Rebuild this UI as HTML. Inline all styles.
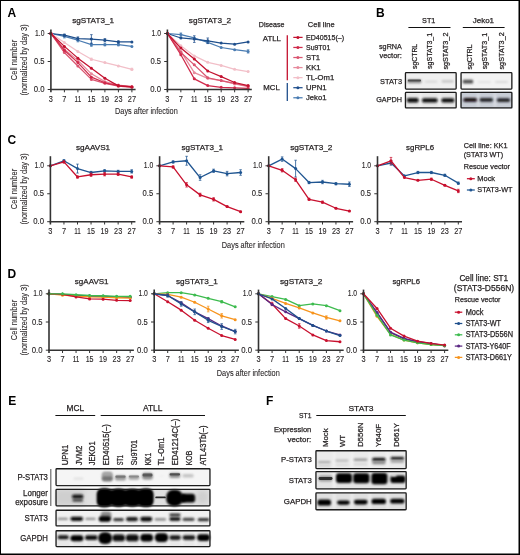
<!DOCTYPE html>
<html><head><meta charset="utf-8"><style>
html,body{margin:0;padding:0;background:#fff;}
body{width:520px;height:555px;overflow:hidden;}
svg{display:block;filter:blur(0.5px);}
text{font-family:"Liberation Sans", sans-serif;}
</style></head><body>
<svg width="520" height="555" viewBox="0 0 520 555">
<defs>
<filter id="b3" x="-50%" y="-100%" width="200%" height="300%"><feGaussianBlur stdDeviation="0.3"/></filter>
<filter id="b4" x="-50%" y="-100%" width="200%" height="300%"><feGaussianBlur stdDeviation="0.4"/></filter>
<filter id="b5" x="-50%" y="-100%" width="200%" height="300%"><feGaussianBlur stdDeviation="0.5"/></filter>
<filter id="b6" x="-50%" y="-100%" width="200%" height="300%"><feGaussianBlur stdDeviation="0.6"/></filter>
<filter id="b7" x="-50%" y="-100%" width="200%" height="300%"><feGaussianBlur stdDeviation="0.7"/></filter>
<filter id="b8" x="-50%" y="-100%" width="200%" height="300%"><feGaussianBlur stdDeviation="0.8"/></filter>
<filter id="b9" x="-50%" y="-100%" width="200%" height="300%"><feGaussianBlur stdDeviation="0.9"/></filter>
<filter id="b10" x="-50%" y="-100%" width="200%" height="300%"><feGaussianBlur stdDeviation="1.0"/></filter>
<filter id="b12" x="-50%" y="-100%" width="200%" height="300%"><feGaussianBlur stdDeviation="1.2"/></filter>
<filter id="b14" x="-50%" y="-100%" width="200%" height="300%"><feGaussianBlur stdDeviation="1.4"/></filter>
<filter id="b16" x="-50%" y="-100%" width="200%" height="300%"><feGaussianBlur stdDeviation="1.6"/></filter>
<filter id="b20" x="-50%" y="-100%" width="200%" height="300%"><feGaussianBlur stdDeviation="2.0"/></filter>
<filter id="b25" x="-50%" y="-100%" width="200%" height="300%"><feGaussianBlur stdDeviation="2.5"/></filter>
</defs>
<rect x="0.00" y="0.00" width="520.00" height="555.00" fill="#ffffff"/>
<text x="7.4" y="16.6" font-size="12" text-anchor="start" font-weight="bold" fill="#000">A</text>
<text x="93.1" y="22.9" font-size="8.1" text-anchor="middle" textLength="41.8" lengthAdjust="spacingAndGlyphs" fill="#231f20" stroke="#231f20" stroke-width="0.25">sgSTAT3_1</text>
<text x="210" y="22.9" font-size="8.1" text-anchor="middle" textLength="42.3" lengthAdjust="spacingAndGlyphs" fill="#231f20" stroke="#231f20" stroke-width="0.25">sgSTAT3_2</text>
<text transform="translate(16.7,60.0) rotate(-90)" font-size="9.8" text-anchor="middle" textLength="40.3" lengthAdjust="spacingAndGlyphs" fill="#231f20" stroke="#231f20" stroke-width="0.08">Cell number</text>
<text transform="translate(27.0,60.0) rotate(-90)" font-size="9.8" text-anchor="middle" textLength="71.2" lengthAdjust="spacingAndGlyphs" fill="#231f20" stroke="#231f20" stroke-width="0.08">(normalized by day 3)</text>
<polyline points="50.90,33.50 64.40,36.30 77.90,40.22 91.40,44.70 104.90,44.70 118.40,44.70 131.90,46.38" fill="none" stroke="#4a7cb2" stroke-width="1.25" stroke-linejoin="round"/>
<circle cx="50.90" cy="33.50" r="1.5" fill="#4a7cb2"/>
<circle cx="64.40" cy="36.30" r="1.5" fill="#4a7cb2"/>
<line x1="64.40" y1="34.62" x2="64.40" y2="37.98" stroke="#4a7cb2" stroke-width="0.8"/>
<line x1="63.10" y1="34.62" x2="65.70" y2="34.62" stroke="#4a7cb2" stroke-width="0.7"/>
<line x1="63.10" y1="37.98" x2="65.70" y2="37.98" stroke="#4a7cb2" stroke-width="0.7"/>
<circle cx="77.90" cy="40.22" r="1.5" fill="#4a7cb2"/>
<line x1="77.90" y1="38.54" x2="77.90" y2="41.90" stroke="#4a7cb2" stroke-width="0.8"/>
<line x1="76.60" y1="38.54" x2="79.20" y2="38.54" stroke="#4a7cb2" stroke-width="0.7"/>
<line x1="76.60" y1="41.90" x2="79.20" y2="41.90" stroke="#4a7cb2" stroke-width="0.7"/>
<circle cx="91.40" cy="44.70" r="1.5" fill="#4a7cb2"/>
<line x1="91.40" y1="43.02" x2="91.40" y2="46.38" stroke="#4a7cb2" stroke-width="0.8"/>
<line x1="90.10" y1="43.02" x2="92.70" y2="43.02" stroke="#4a7cb2" stroke-width="0.7"/>
<line x1="90.10" y1="46.38" x2="92.70" y2="46.38" stroke="#4a7cb2" stroke-width="0.7"/>
<circle cx="104.90" cy="44.70" r="1.5" fill="#4a7cb2"/>
<line x1="104.90" y1="43.58" x2="104.90" y2="45.82" stroke="#4a7cb2" stroke-width="0.8"/>
<line x1="103.60" y1="43.58" x2="106.20" y2="43.58" stroke="#4a7cb2" stroke-width="0.7"/>
<line x1="103.60" y1="45.82" x2="106.20" y2="45.82" stroke="#4a7cb2" stroke-width="0.7"/>
<circle cx="118.40" cy="44.70" r="1.5" fill="#4a7cb2"/>
<line x1="118.40" y1="43.58" x2="118.40" y2="45.82" stroke="#4a7cb2" stroke-width="0.8"/>
<line x1="117.10" y1="43.58" x2="119.70" y2="43.58" stroke="#4a7cb2" stroke-width="0.7"/>
<line x1="117.10" y1="45.82" x2="119.70" y2="45.82" stroke="#4a7cb2" stroke-width="0.7"/>
<circle cx="131.90" cy="46.38" r="1.5" fill="#4a7cb2"/>
<polyline points="50.90,33.50 64.40,35.18 77.90,38.54 91.40,39.10 104.90,40.22 118.40,41.90 131.90,41.90" fill="none" stroke="#1f4f8c" stroke-width="1.25" stroke-linejoin="round"/>
<circle cx="50.90" cy="33.50" r="1.5" fill="#1f4f8c"/>
<circle cx="64.40" cy="35.18" r="1.5" fill="#1f4f8c"/>
<line x1="64.40" y1="34.06" x2="64.40" y2="36.30" stroke="#1f4f8c" stroke-width="0.8"/>
<line x1="63.10" y1="34.06" x2="65.70" y2="34.06" stroke="#1f4f8c" stroke-width="0.7"/>
<line x1="63.10" y1="36.30" x2="65.70" y2="36.30" stroke="#1f4f8c" stroke-width="0.7"/>
<circle cx="77.90" cy="38.54" r="1.5" fill="#1f4f8c"/>
<line x1="77.90" y1="36.86" x2="77.90" y2="40.22" stroke="#1f4f8c" stroke-width="0.8"/>
<line x1="76.60" y1="36.86" x2="79.20" y2="36.86" stroke="#1f4f8c" stroke-width="0.7"/>
<line x1="76.60" y1="40.22" x2="79.20" y2="40.22" stroke="#1f4f8c" stroke-width="0.7"/>
<circle cx="91.40" cy="39.10" r="1.5" fill="#1f4f8c"/>
<line x1="91.40" y1="34.62" x2="91.40" y2="43.58" stroke="#1f4f8c" stroke-width="0.8"/>
<line x1="90.10" y1="34.62" x2="92.70" y2="34.62" stroke="#1f4f8c" stroke-width="0.7"/>
<line x1="90.10" y1="43.58" x2="92.70" y2="43.58" stroke="#1f4f8c" stroke-width="0.7"/>
<circle cx="104.90" cy="40.22" r="1.5" fill="#1f4f8c"/>
<line x1="104.90" y1="38.54" x2="104.90" y2="41.90" stroke="#1f4f8c" stroke-width="0.8"/>
<line x1="103.60" y1="38.54" x2="106.20" y2="38.54" stroke="#1f4f8c" stroke-width="0.7"/>
<line x1="103.60" y1="41.90" x2="106.20" y2="41.90" stroke="#1f4f8c" stroke-width="0.7"/>
<circle cx="118.40" cy="41.90" r="1.5" fill="#1f4f8c"/>
<line x1="118.40" y1="40.78" x2="118.40" y2="43.02" stroke="#1f4f8c" stroke-width="0.8"/>
<line x1="117.10" y1="40.78" x2="119.70" y2="40.78" stroke="#1f4f8c" stroke-width="0.7"/>
<line x1="117.10" y1="43.02" x2="119.70" y2="43.02" stroke="#1f4f8c" stroke-width="0.7"/>
<circle cx="131.90" cy="41.90" r="1.5" fill="#1f4f8c"/>
<polyline points="50.90,33.50 64.40,42.46 77.90,51.42 91.40,59.26 104.90,62.62 118.40,65.98 131.90,69.34" fill="none" stroke="#f2bfc8" stroke-width="1.25" stroke-linejoin="round"/>
<circle cx="50.90" cy="33.50" r="1.5" fill="#f2bfc8"/>
<circle cx="64.40" cy="42.46" r="1.5" fill="#f2bfc8"/>
<circle cx="77.90" cy="51.42" r="1.5" fill="#f2bfc8"/>
<circle cx="91.40" cy="59.26" r="1.5" fill="#f2bfc8"/>
<line x1="91.40" y1="58.14" x2="91.40" y2="60.38" stroke="#f2bfc8" stroke-width="0.8"/>
<line x1="90.10" y1="58.14" x2="92.70" y2="58.14" stroke="#f2bfc8" stroke-width="0.7"/>
<line x1="90.10" y1="60.38" x2="92.70" y2="60.38" stroke="#f2bfc8" stroke-width="0.7"/>
<circle cx="104.90" cy="62.62" r="1.5" fill="#f2bfc8"/>
<circle cx="118.40" cy="65.98" r="1.5" fill="#f2bfc8"/>
<circle cx="131.90" cy="69.34" r="1.5" fill="#f2bfc8"/>
<line x1="131.90" y1="68.22" x2="131.90" y2="70.46" stroke="#f2bfc8" stroke-width="0.8"/>
<line x1="130.60" y1="68.22" x2="133.20" y2="68.22" stroke="#f2bfc8" stroke-width="0.7"/>
<line x1="130.60" y1="70.46" x2="133.20" y2="70.46" stroke="#f2bfc8" stroke-width="0.7"/>
<polyline points="50.90,33.50 64.40,49.18 77.90,60.38 91.40,73.82 104.90,81.66 118.40,85.02 131.90,86.70" fill="none" stroke="#e78a9c" stroke-width="1.25" stroke-linejoin="round"/>
<circle cx="50.90" cy="33.50" r="1.5" fill="#e78a9c"/>
<circle cx="64.40" cy="49.18" r="1.5" fill="#e78a9c"/>
<circle cx="77.90" cy="60.38" r="1.5" fill="#e78a9c"/>
<circle cx="91.40" cy="73.82" r="1.5" fill="#e78a9c"/>
<circle cx="104.90" cy="81.66" r="1.5" fill="#e78a9c"/>
<circle cx="118.40" cy="85.02" r="1.5" fill="#e78a9c"/>
<circle cx="131.90" cy="86.70" r="1.5" fill="#e78a9c"/>
<polyline points="50.90,33.50 64.40,52.54 77.90,65.98 91.40,79.42 104.90,83.34 118.40,86.14 131.90,87.26" fill="none" stroke="#da5570" stroke-width="1.25" stroke-linejoin="round"/>
<circle cx="50.90" cy="33.50" r="1.5" fill="#da5570"/>
<circle cx="64.40" cy="52.54" r="1.5" fill="#da5570"/>
<circle cx="77.90" cy="65.98" r="1.5" fill="#da5570"/>
<circle cx="91.40" cy="79.42" r="1.5" fill="#da5570"/>
<circle cx="104.90" cy="83.34" r="1.5" fill="#da5570"/>
<circle cx="118.40" cy="86.14" r="1.5" fill="#da5570"/>
<circle cx="131.90" cy="87.26" r="1.5" fill="#da5570"/>
<polyline points="50.90,33.50 64.40,50.30 77.90,62.62 91.40,77.18 104.90,82.78 118.40,85.58 131.90,86.70" fill="none" stroke="#d02a4b" stroke-width="1.25" stroke-linejoin="round"/>
<circle cx="50.90" cy="33.50" r="1.5" fill="#d02a4b"/>
<circle cx="64.40" cy="50.30" r="1.5" fill="#d02a4b"/>
<circle cx="77.90" cy="62.62" r="1.5" fill="#d02a4b"/>
<circle cx="91.40" cy="77.18" r="1.5" fill="#d02a4b"/>
<circle cx="104.90" cy="82.78" r="1.5" fill="#d02a4b"/>
<circle cx="118.40" cy="85.58" r="1.5" fill="#d02a4b"/>
<circle cx="131.90" cy="86.70" r="1.5" fill="#d02a4b"/>
<polyline points="50.90,33.50 64.40,46.38 77.90,58.14 91.40,68.22 104.90,78.30 118.40,85.86 131.90,86.98" fill="none" stroke="#c3112f" stroke-width="1.25" stroke-linejoin="round"/>
<circle cx="50.90" cy="33.50" r="1.5" fill="#c3112f"/>
<circle cx="64.40" cy="46.38" r="1.5" fill="#c3112f"/>
<circle cx="77.90" cy="58.14" r="1.5" fill="#c3112f"/>
<circle cx="91.40" cy="68.22" r="1.5" fill="#c3112f"/>
<circle cx="104.90" cy="78.30" r="1.5" fill="#c3112f"/>
<circle cx="118.40" cy="85.86" r="1.5" fill="#c3112f"/>
<circle cx="131.90" cy="86.98" r="1.5" fill="#c3112f"/>
<line x1="50.90" y1="29.50" x2="50.90" y2="92.30" stroke="#333333" stroke-width="1.6"/>
<line x1="50.10" y1="89.50" x2="135.60" y2="89.50" stroke="#333333" stroke-width="1.6"/>
<line x1="47.70" y1="61.50" x2="50.90" y2="61.50" stroke="#333333" stroke-width="1.0"/>
<line x1="47.70" y1="33.50" x2="50.90" y2="33.50" stroke="#333333" stroke-width="1.0"/>
<line x1="47.70" y1="89.50" x2="50.90" y2="89.50" stroke="#333333" stroke-width="1.0"/>
<line x1="64.40" y1="89.50" x2="64.40" y2="92.30" stroke="#333333" stroke-width="1.0"/>
<line x1="77.90" y1="89.50" x2="77.90" y2="92.30" stroke="#333333" stroke-width="1.0"/>
<line x1="91.40" y1="89.50" x2="91.40" y2="92.30" stroke="#333333" stroke-width="1.0"/>
<line x1="104.90" y1="89.50" x2="104.90" y2="92.30" stroke="#333333" stroke-width="1.0"/>
<line x1="118.40" y1="89.50" x2="118.40" y2="92.30" stroke="#333333" stroke-width="1.0"/>
<line x1="131.90" y1="89.50" x2="131.90" y2="92.30" stroke="#333333" stroke-width="1.0"/>
<text x="44.5" y="36.1" font-size="8.6" text-anchor="end" textLength="9.4" lengthAdjust="spacingAndGlyphs" fill="#231f20" stroke="#231f20" stroke-width="0.12">1.0</text>
<text x="44.5" y="64.1" font-size="8.6" text-anchor="end" textLength="10.6" lengthAdjust="spacingAndGlyphs" fill="#231f20" stroke="#231f20" stroke-width="0.12">0.5</text>
<text x="44.5" y="92.1" font-size="8.6" text-anchor="end" textLength="10.8" lengthAdjust="spacingAndGlyphs" fill="#231f20" stroke="#231f20" stroke-width="0.12">0.0</text>
<text x="50.9" y="101.5" font-size="8.6" text-anchor="middle" textLength="4.1" lengthAdjust="spacingAndGlyphs" fill="#231f20" stroke="#231f20" stroke-width="0.12">3</text>
<text x="64.4" y="101.5" font-size="8.6" text-anchor="middle" textLength="4.1" lengthAdjust="spacingAndGlyphs" fill="#231f20" stroke="#231f20" stroke-width="0.12">7</text>
<text x="77.9" y="101.5" font-size="8.6" text-anchor="middle" textLength="6.6" lengthAdjust="spacingAndGlyphs" fill="#231f20" stroke="#231f20" stroke-width="0.12">11</text>
<text x="91.4" y="101.5" font-size="8.6" text-anchor="middle" textLength="7.9" lengthAdjust="spacingAndGlyphs" fill="#231f20" stroke="#231f20" stroke-width="0.12">15</text>
<text x="104.9" y="101.5" font-size="8.6" text-anchor="middle" textLength="8.0" lengthAdjust="spacingAndGlyphs" fill="#231f20" stroke="#231f20" stroke-width="0.12">19</text>
<text x="118.4" y="101.5" font-size="8.6" text-anchor="middle" textLength="8.1" lengthAdjust="spacingAndGlyphs" fill="#231f20" stroke="#231f20" stroke-width="0.12">23</text>
<text x="131.9" y="101.5" font-size="8.6" text-anchor="middle" textLength="8.2" lengthAdjust="spacingAndGlyphs" fill="#231f20" stroke="#231f20" stroke-width="0.12">27</text>
<polyline points="167.40,33.50 180.85,34.62 194.30,37.98 207.75,42.46 221.20,47.50 234.65,49.74 248.10,51.42" fill="none" stroke="#4a7cb2" stroke-width="1.25" stroke-linejoin="round"/>
<circle cx="167.40" cy="33.50" r="1.5" fill="#4a7cb2"/>
<circle cx="180.85" cy="34.62" r="1.5" fill="#4a7cb2"/>
<line x1="180.85" y1="32.94" x2="180.85" y2="36.30" stroke="#4a7cb2" stroke-width="0.8"/>
<line x1="179.55" y1="32.94" x2="182.15" y2="32.94" stroke="#4a7cb2" stroke-width="0.7"/>
<line x1="179.55" y1="36.30" x2="182.15" y2="36.30" stroke="#4a7cb2" stroke-width="0.7"/>
<circle cx="194.30" cy="37.98" r="1.5" fill="#4a7cb2"/>
<circle cx="207.75" cy="42.46" r="1.5" fill="#4a7cb2"/>
<circle cx="221.20" cy="47.50" r="1.5" fill="#4a7cb2"/>
<circle cx="234.65" cy="49.74" r="1.5" fill="#4a7cb2"/>
<circle cx="248.10" cy="51.42" r="1.5" fill="#4a7cb2"/>
<line x1="248.10" y1="49.74" x2="248.10" y2="53.10" stroke="#4a7cb2" stroke-width="0.8"/>
<line x1="246.80" y1="49.74" x2="249.40" y2="49.74" stroke="#4a7cb2" stroke-width="0.7"/>
<line x1="246.80" y1="53.10" x2="249.40" y2="53.10" stroke="#4a7cb2" stroke-width="0.7"/>
<polyline points="167.40,33.50 180.85,37.98 194.30,39.10 207.75,40.78 221.20,43.02 234.65,44.14 248.10,41.90" fill="none" stroke="#1f4f8c" stroke-width="1.25" stroke-linejoin="round"/>
<circle cx="167.40" cy="33.50" r="1.5" fill="#1f4f8c"/>
<circle cx="180.85" cy="37.98" r="1.5" fill="#1f4f8c"/>
<circle cx="194.30" cy="39.10" r="1.5" fill="#1f4f8c"/>
<line x1="194.30" y1="35.74" x2="194.30" y2="42.46" stroke="#1f4f8c" stroke-width="0.8"/>
<line x1="193.00" y1="35.74" x2="195.60" y2="35.74" stroke="#1f4f8c" stroke-width="0.7"/>
<line x1="193.00" y1="42.46" x2="195.60" y2="42.46" stroke="#1f4f8c" stroke-width="0.7"/>
<circle cx="207.75" cy="40.78" r="1.5" fill="#1f4f8c"/>
<line x1="207.75" y1="37.98" x2="207.75" y2="43.58" stroke="#1f4f8c" stroke-width="0.8"/>
<line x1="206.45" y1="37.98" x2="209.05" y2="37.98" stroke="#1f4f8c" stroke-width="0.7"/>
<line x1="206.45" y1="43.58" x2="209.05" y2="43.58" stroke="#1f4f8c" stroke-width="0.7"/>
<circle cx="221.20" cy="43.02" r="1.5" fill="#1f4f8c"/>
<circle cx="234.65" cy="44.14" r="1.5" fill="#1f4f8c"/>
<circle cx="248.10" cy="41.90" r="1.5" fill="#1f4f8c"/>
<polyline points="167.40,33.50 180.85,45.82 194.30,55.90 207.75,62.34 221.20,65.42 234.65,69.34 248.10,71.58" fill="none" stroke="#f2bfc8" stroke-width="1.25" stroke-linejoin="round"/>
<circle cx="167.40" cy="33.50" r="1.5" fill="#f2bfc8"/>
<circle cx="180.85" cy="45.82" r="1.5" fill="#f2bfc8"/>
<circle cx="194.30" cy="55.90" r="1.5" fill="#f2bfc8"/>
<circle cx="207.75" cy="62.34" r="1.5" fill="#f2bfc8"/>
<circle cx="221.20" cy="65.42" r="1.5" fill="#f2bfc8"/>
<circle cx="234.65" cy="69.34" r="1.5" fill="#f2bfc8"/>
<circle cx="248.10" cy="71.58" r="1.5" fill="#f2bfc8"/>
<polyline points="167.40,33.50 180.85,51.42 194.30,72.70 207.75,78.30 221.20,80.54 234.65,83.90 248.10,86.70" fill="none" stroke="#e78a9c" stroke-width="1.25" stroke-linejoin="round"/>
<circle cx="167.40" cy="33.50" r="1.5" fill="#e78a9c"/>
<circle cx="180.85" cy="51.42" r="1.5" fill="#e78a9c"/>
<circle cx="194.30" cy="72.70" r="1.5" fill="#e78a9c"/>
<circle cx="207.75" cy="78.30" r="1.5" fill="#e78a9c"/>
<circle cx="221.20" cy="80.54" r="1.5" fill="#e78a9c"/>
<circle cx="234.65" cy="83.90" r="1.5" fill="#e78a9c"/>
<circle cx="248.10" cy="86.70" r="1.5" fill="#e78a9c"/>
<polyline points="167.40,33.50 180.85,52.54 194.30,64.86 207.75,77.74 221.20,80.54 234.65,83.34 248.10,86.14" fill="none" stroke="#da5570" stroke-width="1.25" stroke-linejoin="round"/>
<circle cx="167.40" cy="33.50" r="1.5" fill="#da5570"/>
<circle cx="180.85" cy="52.54" r="1.5" fill="#da5570"/>
<circle cx="194.30" cy="64.86" r="1.5" fill="#da5570"/>
<circle cx="207.75" cy="77.74" r="1.5" fill="#da5570"/>
<circle cx="221.20" cy="80.54" r="1.5" fill="#da5570"/>
<circle cx="234.65" cy="83.34" r="1.5" fill="#da5570"/>
<circle cx="248.10" cy="86.14" r="1.5" fill="#da5570"/>
<polyline points="167.40,33.50 180.85,54.78 194.30,78.86 207.75,85.58 221.20,87.26 234.65,87.82 248.10,88.38" fill="none" stroke="#d02a4b" stroke-width="1.25" stroke-linejoin="round"/>
<circle cx="167.40" cy="33.50" r="1.5" fill="#d02a4b"/>
<circle cx="180.85" cy="54.78" r="1.5" fill="#d02a4b"/>
<circle cx="194.30" cy="78.86" r="1.5" fill="#d02a4b"/>
<circle cx="207.75" cy="85.58" r="1.5" fill="#d02a4b"/>
<circle cx="221.20" cy="87.26" r="1.5" fill="#d02a4b"/>
<circle cx="234.65" cy="87.82" r="1.5" fill="#d02a4b"/>
<circle cx="248.10" cy="88.38" r="1.5" fill="#d02a4b"/>
<polyline points="167.40,33.50 180.85,48.06 194.30,58.98 207.75,71.02 221.20,76.62 234.65,82.50 248.10,85.58" fill="none" stroke="#c3112f" stroke-width="1.25" stroke-linejoin="round"/>
<circle cx="167.40" cy="33.50" r="1.5" fill="#c3112f"/>
<circle cx="180.85" cy="48.06" r="1.5" fill="#c3112f"/>
<circle cx="194.30" cy="58.98" r="1.5" fill="#c3112f"/>
<circle cx="207.75" cy="71.02" r="1.5" fill="#c3112f"/>
<circle cx="221.20" cy="76.62" r="1.5" fill="#c3112f"/>
<circle cx="234.65" cy="82.50" r="1.5" fill="#c3112f"/>
<circle cx="248.10" cy="85.58" r="1.5" fill="#c3112f"/>
<line x1="167.40" y1="29.50" x2="167.40" y2="92.30" stroke="#333333" stroke-width="1.6"/>
<line x1="166.60" y1="89.50" x2="251.80" y2="89.50" stroke="#333333" stroke-width="1.6"/>
<line x1="164.20" y1="61.50" x2="167.40" y2="61.50" stroke="#333333" stroke-width="1.0"/>
<line x1="164.20" y1="33.50" x2="167.40" y2="33.50" stroke="#333333" stroke-width="1.0"/>
<line x1="164.20" y1="89.50" x2="167.40" y2="89.50" stroke="#333333" stroke-width="1.0"/>
<line x1="180.85" y1="89.50" x2="180.85" y2="92.30" stroke="#333333" stroke-width="1.0"/>
<line x1="194.30" y1="89.50" x2="194.30" y2="92.30" stroke="#333333" stroke-width="1.0"/>
<line x1="207.75" y1="89.50" x2="207.75" y2="92.30" stroke="#333333" stroke-width="1.0"/>
<line x1="221.20" y1="89.50" x2="221.20" y2="92.30" stroke="#333333" stroke-width="1.0"/>
<line x1="234.65" y1="89.50" x2="234.65" y2="92.30" stroke="#333333" stroke-width="1.0"/>
<line x1="248.10" y1="89.50" x2="248.10" y2="92.30" stroke="#333333" stroke-width="1.0"/>
<text x="161.0" y="36.1" font-size="8.6" text-anchor="end" textLength="9.4" lengthAdjust="spacingAndGlyphs" fill="#231f20" stroke="#231f20" stroke-width="0.12">1.0</text>
<text x="161.0" y="64.1" font-size="8.6" text-anchor="end" textLength="10.6" lengthAdjust="spacingAndGlyphs" fill="#231f20" stroke="#231f20" stroke-width="0.12">0.5</text>
<text x="161.0" y="92.1" font-size="8.6" text-anchor="end" textLength="10.8" lengthAdjust="spacingAndGlyphs" fill="#231f20" stroke="#231f20" stroke-width="0.12">0.0</text>
<text x="167.4" y="101.5" font-size="8.6" text-anchor="middle" textLength="4.1" lengthAdjust="spacingAndGlyphs" fill="#231f20" stroke="#231f20" stroke-width="0.12">3</text>
<text x="180.85" y="101.5" font-size="8.6" text-anchor="middle" textLength="4.1" lengthAdjust="spacingAndGlyphs" fill="#231f20" stroke="#231f20" stroke-width="0.12">7</text>
<text x="194.3" y="101.5" font-size="8.6" text-anchor="middle" textLength="6.6" lengthAdjust="spacingAndGlyphs" fill="#231f20" stroke="#231f20" stroke-width="0.12">11</text>
<text x="207.75" y="101.5" font-size="8.6" text-anchor="middle" textLength="7.9" lengthAdjust="spacingAndGlyphs" fill="#231f20" stroke="#231f20" stroke-width="0.12">15</text>
<text x="221.2" y="101.5" font-size="8.6" text-anchor="middle" textLength="8.0" lengthAdjust="spacingAndGlyphs" fill="#231f20" stroke="#231f20" stroke-width="0.12">19</text>
<text x="234.65" y="101.5" font-size="8.6" text-anchor="middle" textLength="8.1" lengthAdjust="spacingAndGlyphs" fill="#231f20" stroke="#231f20" stroke-width="0.12">23</text>
<text x="248.1" y="101.5" font-size="8.6" text-anchor="middle" textLength="8.2" lengthAdjust="spacingAndGlyphs" fill="#231f20" stroke="#231f20" stroke-width="0.12">27</text>
<text x="146.4" y="114.0" font-size="9.2" text-anchor="middle" textLength="62.7" lengthAdjust="spacingAndGlyphs" fill="#231f20" stroke="#231f20" stroke-width="0.08">Days after infection</text>
<text x="271.6" y="26.8" font-size="7.7" text-anchor="middle" textLength="25.6" lengthAdjust="spacingAndGlyphs" fill="#231f20" stroke="#231f20" stroke-width="0.25">Disease</text>
<text x="321.2" y="26.8" font-size="7.7" text-anchor="middle" textLength="26.8" lengthAdjust="spacingAndGlyphs" fill="#231f20" stroke="#231f20" stroke-width="0.25">Cell line</text>
<text x="271.9" y="41.0" font-size="7.7" text-anchor="middle" textLength="18.2" lengthAdjust="spacingAndGlyphs" fill="#231f20" stroke="#231f20" stroke-width="0.25">ATLL</text>
<text x="271.6" y="90.2" font-size="7.7" text-anchor="middle" textLength="16.5" lengthAdjust="spacingAndGlyphs" fill="#231f20" stroke="#231f20" stroke-width="0.25">MCL</text>
<line x1="287.30" y1="35.20" x2="287.30" y2="80.30" stroke="#c3112f" stroke-width="1.3"/>
<line x1="287.30" y1="83.00" x2="287.30" y2="101.00" stroke="#1f4f8c" stroke-width="1.3"/>
<line x1="293.30" y1="37.40" x2="302.60" y2="37.40" stroke="#c3112f" stroke-width="1.25"/>
<circle cx="297.9" cy="37.40" r="1.5" fill="#c3112f"/>
<text x="306.0" y="39.9" font-size="7.7" text-anchor="start" textLength="38.1" lengthAdjust="spacingAndGlyphs" fill="#231f20" stroke="#231f20" stroke-width="0.25">ED40515(–)</text>
<line x1="293.30" y1="47.46" x2="302.60" y2="47.46" stroke="#d02a4b" stroke-width="1.25"/>
<circle cx="297.9" cy="47.46" r="1.5" fill="#d02a4b"/>
<text x="306.0" y="49.96" font-size="7.7" text-anchor="start" textLength="24.3" lengthAdjust="spacingAndGlyphs" fill="#231f20" stroke="#231f20" stroke-width="0.25">Su9T01</text>
<line x1="293.30" y1="57.52" x2="302.60" y2="57.52" stroke="#da5570" stroke-width="1.25"/>
<circle cx="297.9" cy="57.52" r="1.5" fill="#da5570"/>
<text x="306.0" y="60.02" font-size="7.7" text-anchor="start" fill="#231f20" stroke="#231f20" stroke-width="0.25">ST1</text>
<line x1="293.30" y1="67.58" x2="302.60" y2="67.58" stroke="#e78a9c" stroke-width="1.25"/>
<circle cx="297.9" cy="67.58" r="1.5" fill="#e78a9c"/>
<text x="306.0" y="70.08" font-size="7.7" text-anchor="start" fill="#231f20" stroke="#231f20" stroke-width="0.25">KK1</text>
<line x1="293.30" y1="77.64" x2="302.60" y2="77.64" stroke="#f2bfc8" stroke-width="1.25"/>
<circle cx="297.9" cy="77.64" r="1.5" fill="#f2bfc8"/>
<text x="306.0" y="80.14" font-size="7.7" text-anchor="start" fill="#231f20" stroke="#231f20" stroke-width="0.25">TL-Om1</text>
<line x1="293.30" y1="87.70" x2="302.60" y2="87.70" stroke="#1f4f8c" stroke-width="1.25"/>
<circle cx="297.9" cy="87.70" r="1.5" fill="#1f4f8c"/>
<text x="306.0" y="90.2" font-size="7.7" text-anchor="start" fill="#231f20" stroke="#231f20" stroke-width="0.25">UPN1</text>
<line x1="293.30" y1="97.76" x2="302.60" y2="97.76" stroke="#4a7cb2" stroke-width="1.25"/>
<circle cx="297.9" cy="97.76" r="1.5" fill="#4a7cb2"/>
<text x="306.0" y="100.26" font-size="7.7" text-anchor="start" fill="#231f20" stroke="#231f20" stroke-width="0.25">Jeko1</text>
<text x="375.9" y="16.8" font-size="12" text-anchor="start" font-weight="bold" fill="#000">B</text>
<text x="428.7" y="23.4" font-size="8.0" text-anchor="middle" textLength="13.3" lengthAdjust="spacingAndGlyphs" fill="#231f20" stroke="#231f20" stroke-width="0.25">ST1</text>
<text x="483.4" y="22.9" font-size="8.0" text-anchor="middle" textLength="21.4" lengthAdjust="spacingAndGlyphs" fill="#231f20" stroke="#231f20" stroke-width="0.25">Jeko1</text>
<line x1="408.40" y1="27.50" x2="450.50" y2="27.50" stroke="#111" stroke-width="1.0"/>
<line x1="462.80" y1="27.50" x2="504.60" y2="27.50" stroke="#111" stroke-width="1.0"/>
<text x="379.0" y="49.0" font-size="8.0" text-anchor="start" textLength="22.9" lengthAdjust="spacingAndGlyphs" fill="#231f20" stroke="#231f20" stroke-width="0.25">sgRNA</text>
<text x="379.4" y="57.6" font-size="8.0" text-anchor="start" textLength="22.5" lengthAdjust="spacingAndGlyphs" fill="#231f20" stroke="#231f20" stroke-width="0.25">vector:</text>
<text transform="translate(417.0,68.9) rotate(-90)" font-size="8.0" text-anchor="start" textLength="25.0" lengthAdjust="spacingAndGlyphs" fill="#231f20" stroke="#231f20" stroke-width="0.25">sgCTRL</text>
<text transform="translate(432.4,68.9) rotate(-90)" font-size="8.0" text-anchor="start" textLength="36.1" lengthAdjust="spacingAndGlyphs" fill="#231f20" stroke="#231f20" stroke-width="0.25">sgSTAT3_1</text>
<text transform="translate(448.3,69.6) rotate(-90)" font-size="8.0" text-anchor="start" textLength="37.0" lengthAdjust="spacingAndGlyphs" fill="#231f20" stroke="#231f20" stroke-width="0.25">sgSTAT3_2</text>
<text transform="translate(471.6,69.5) rotate(-90)" font-size="8.0" text-anchor="start" textLength="25.0" lengthAdjust="spacingAndGlyphs" fill="#231f20" stroke="#231f20" stroke-width="0.25">sgCTRL</text>
<text transform="translate(486.5,69.2) rotate(-90)" font-size="8.0" text-anchor="start" textLength="36.4" lengthAdjust="spacingAndGlyphs" fill="#231f20" stroke="#231f20" stroke-width="0.25">sgSTAT3_1</text>
<text transform="translate(504.1,69.5) rotate(-90)" font-size="8.0" text-anchor="start" textLength="37.2" lengthAdjust="spacingAndGlyphs" fill="#231f20" stroke="#231f20" stroke-width="0.25">sgSTAT3_2</text>
<text x="402.0" y="83.7" font-size="8.0" text-anchor="end" textLength="21.9" lengthAdjust="spacingAndGlyphs" fill="#231f20" stroke="#231f20" stroke-width="0.25">STAT3</text>
<text x="402.0" y="102.2" font-size="8.0" text-anchor="end" textLength="25.8" lengthAdjust="spacingAndGlyphs" fill="#231f20" stroke="#231f20" stroke-width="0.25">GAPDH</text>
<rect x="404.80" y="72.00" width="52.00" height="17.70" fill="#f0f0f0"/>
<rect x="407.50" y="79.40" width="13.80" height="3.80" rx="1.20" fill="#8a8a8a" opacity="1.0" filter="url(#b8)"/>
<rect x="407.80" y="79.60" width="13.20" height="2.00" rx="0.80" fill="#505050" opacity="1.0" filter="url(#b6)"/>
<rect x="424.80" y="80.80" width="12.70" height="1.80" rx="0.90" fill="#d4d4d4" opacity="1.0" filter="url(#b8)"/>
<rect x="441.50" y="80.30" width="12.20" height="2.30" rx="1.15" fill="#c2c2c2" opacity="1.0" filter="url(#b8)"/>
<rect x="405.45" y="72.65" width="50.70" height="16.40" rx="0.8" fill="none" stroke="#1c1c1c" stroke-width="1.3"/>
<rect x="460.40" y="72.00" width="52.10" height="17.70" fill="#f3f3f3"/>
<rect x="462.80" y="79.80" width="10.30" height="3.60" rx="1.20" fill="#505050" opacity="1.0" filter="url(#b9)"/>
<rect x="478.00" y="81.20" width="13.00" height="1.80" rx="0.90" fill="#e0e0e0" opacity="1.0" filter="url(#b10)"/>
<rect x="495.00" y="81.00" width="13.00" height="2.00" rx="1.00" fill="#dadada" opacity="1.0" filter="url(#b10)"/>
<rect x="461.05" y="72.65" width="50.80" height="16.40" rx="0.8" fill="none" stroke="#1c1c1c" stroke-width="1.3"/>
<rect x="404.80" y="91.70" width="52.00" height="16.90" fill="#e8e8e8"/>
<rect x="419.05" y="93.20" width="2.50" height="14.00" rx="1.00" fill="#f2f2f2" opacity="1.0" filter="url(#b8)"/>
<rect x="438.25" y="93.20" width="2.50" height="14.00" rx="1.00" fill="#f2f2f2" opacity="1.0" filter="url(#b8)"/>
<rect x="406.90" y="98.10" width="11.70" height="4.40" rx="1.80" fill="#0c0c0c" opacity="1.0" filter="url(#b8)"/>
<rect x="422.00" y="98.20" width="15.60" height="4.40" rx="1.80" fill="#111" opacity="1.0" filter="url(#b8)"/>
<rect x="441.40" y="98.20" width="12.90" height="4.40" rx="1.80" fill="#0f0f0f" opacity="1.0" filter="url(#b8)"/>
<rect x="405.45" y="92.35" width="50.70" height="15.60" rx="0.8" fill="none" stroke="#1c1c1c" stroke-width="1.3"/>
<rect x="460.40" y="91.70" width="52.10" height="16.90" fill="#c8cdd6"/>
<rect x="476.95" y="93.20" width="2.50" height="14.00" rx="1.00" fill="#dadde3" opacity="1.0" filter="url(#b10)"/>
<rect x="493.65" y="93.20" width="2.50" height="14.00" rx="1.00" fill="#dadde3" opacity="1.0" filter="url(#b10)"/>
<rect x="463.40" y="98.00" width="13.50" height="3.80" rx="1.60" fill="#160810" opacity="1.0" filter="url(#b8)"/>
<rect x="479.60" y="98.10" width="13.40" height="3.60" rx="1.60" fill="#202228" opacity="1.0" filter="url(#b8)"/>
<rect x="496.90" y="98.30" width="13.20" height="3.60" rx="1.60" fill="#202228" opacity="1.0" filter="url(#b8)"/>
<rect x="461.05" y="92.35" width="50.80" height="15.60" rx="0.8" fill="none" stroke="#1c1c1c" stroke-width="1.3"/>
<text x="7.6" y="144.4" font-size="12" text-anchor="start" font-weight="bold" fill="#000">C</text>
<text transform="translate(16.7,189.0) rotate(-90)" font-size="9.8" text-anchor="middle" textLength="40.3" lengthAdjust="spacingAndGlyphs" fill="#231f20" stroke="#231f20" stroke-width="0.08">Cell number</text>
<text transform="translate(27.0,189.0) rotate(-90)" font-size="9.8" text-anchor="middle" textLength="71.2" lengthAdjust="spacingAndGlyphs" fill="#231f20" stroke="#231f20" stroke-width="0.08">(normalized by day 3)</text>
<polyline points="50.40,165.80 63.95,160.77 77.50,168.60 91.05,172.51 104.60,170.83 118.15,171.39 131.70,171.39" fill="none" stroke="#1f5591" stroke-width="1.3" stroke-linejoin="round"/>
<circle cx="50.40" cy="165.80" r="1.5" fill="#1f5591"/>
<circle cx="63.95" cy="160.77" r="1.5" fill="#1f5591"/>
<line x1="63.95" y1="159.65" x2="63.95" y2="161.89" stroke="#1f5591" stroke-width="0.8"/>
<line x1="62.65" y1="159.65" x2="65.25" y2="159.65" stroke="#1f5591" stroke-width="0.7"/>
<line x1="62.65" y1="161.89" x2="65.25" y2="161.89" stroke="#1f5591" stroke-width="0.7"/>
<circle cx="77.50" cy="168.60" r="1.5" fill="#1f5591"/>
<line x1="77.50" y1="164.12" x2="77.50" y2="173.07" stroke="#1f5591" stroke-width="0.8"/>
<line x1="76.20" y1="164.12" x2="78.80" y2="164.12" stroke="#1f5591" stroke-width="0.7"/>
<line x1="76.20" y1="173.07" x2="78.80" y2="173.07" stroke="#1f5591" stroke-width="0.7"/>
<circle cx="91.05" cy="172.51" r="1.5" fill="#1f5591"/>
<line x1="91.05" y1="171.39" x2="91.05" y2="173.63" stroke="#1f5591" stroke-width="0.8"/>
<line x1="89.75" y1="171.39" x2="92.35" y2="171.39" stroke="#1f5591" stroke-width="0.7"/>
<line x1="89.75" y1="173.63" x2="92.35" y2="173.63" stroke="#1f5591" stroke-width="0.7"/>
<circle cx="104.60" cy="170.83" r="1.5" fill="#1f5591"/>
<line x1="104.60" y1="169.71" x2="104.60" y2="171.95" stroke="#1f5591" stroke-width="0.8"/>
<line x1="103.30" y1="169.71" x2="105.90" y2="169.71" stroke="#1f5591" stroke-width="0.7"/>
<line x1="103.30" y1="171.95" x2="105.90" y2="171.95" stroke="#1f5591" stroke-width="0.7"/>
<circle cx="118.15" cy="171.39" r="1.5" fill="#1f5591"/>
<line x1="118.15" y1="170.27" x2="118.15" y2="172.51" stroke="#1f5591" stroke-width="0.8"/>
<line x1="116.85" y1="170.27" x2="119.45" y2="170.27" stroke="#1f5591" stroke-width="0.7"/>
<line x1="116.85" y1="172.51" x2="119.45" y2="172.51" stroke="#1f5591" stroke-width="0.7"/>
<circle cx="131.70" cy="171.39" r="1.5" fill="#1f5591"/>
<line x1="131.70" y1="169.71" x2="131.70" y2="173.07" stroke="#1f5591" stroke-width="0.8"/>
<line x1="130.40" y1="169.71" x2="133.00" y2="169.71" stroke="#1f5591" stroke-width="0.7"/>
<line x1="130.40" y1="173.07" x2="133.00" y2="173.07" stroke="#1f5591" stroke-width="0.7"/>
<polyline points="50.40,165.80 63.95,161.89 77.50,176.98 91.05,174.74 104.60,174.19 118.15,174.19 131.70,176.98" fill="none" stroke="#c8102e" stroke-width="1.3" stroke-linejoin="round"/>
<circle cx="50.40" cy="165.80" r="1.5" fill="#c8102e"/>
<circle cx="63.95" cy="161.89" r="1.5" fill="#c8102e"/>
<line x1="63.95" y1="160.77" x2="63.95" y2="163.00" stroke="#c8102e" stroke-width="0.8"/>
<line x1="62.65" y1="160.77" x2="65.25" y2="160.77" stroke="#c8102e" stroke-width="0.7"/>
<line x1="62.65" y1="163.00" x2="65.25" y2="163.00" stroke="#c8102e" stroke-width="0.7"/>
<circle cx="77.50" cy="176.98" r="1.5" fill="#c8102e"/>
<line x1="77.50" y1="175.86" x2="77.50" y2="178.10" stroke="#c8102e" stroke-width="0.8"/>
<line x1="76.20" y1="175.86" x2="78.80" y2="175.86" stroke="#c8102e" stroke-width="0.7"/>
<line x1="76.20" y1="178.10" x2="78.80" y2="178.10" stroke="#c8102e" stroke-width="0.7"/>
<circle cx="91.05" cy="174.74" r="1.5" fill="#c8102e"/>
<line x1="91.05" y1="173.07" x2="91.05" y2="176.42" stroke="#c8102e" stroke-width="0.8"/>
<line x1="89.75" y1="173.07" x2="92.35" y2="173.07" stroke="#c8102e" stroke-width="0.7"/>
<line x1="89.75" y1="176.42" x2="92.35" y2="176.42" stroke="#c8102e" stroke-width="0.7"/>
<circle cx="104.60" cy="174.19" r="1.5" fill="#c8102e"/>
<line x1="104.60" y1="172.51" x2="104.60" y2="175.86" stroke="#c8102e" stroke-width="0.8"/>
<line x1="103.30" y1="172.51" x2="105.90" y2="172.51" stroke="#c8102e" stroke-width="0.7"/>
<line x1="103.30" y1="175.86" x2="105.90" y2="175.86" stroke="#c8102e" stroke-width="0.7"/>
<circle cx="118.15" cy="174.19" r="1.5" fill="#c8102e"/>
<line x1="118.15" y1="173.07" x2="118.15" y2="175.30" stroke="#c8102e" stroke-width="0.8"/>
<line x1="116.85" y1="173.07" x2="119.45" y2="173.07" stroke="#c8102e" stroke-width="0.7"/>
<line x1="116.85" y1="175.30" x2="119.45" y2="175.30" stroke="#c8102e" stroke-width="0.7"/>
<circle cx="131.70" cy="176.98" r="1.5" fill="#c8102e"/>
<line x1="131.70" y1="175.86" x2="131.70" y2="178.10" stroke="#c8102e" stroke-width="0.8"/>
<line x1="130.40" y1="175.86" x2="133.00" y2="175.86" stroke="#c8102e" stroke-width="0.7"/>
<line x1="130.40" y1="178.10" x2="133.00" y2="178.10" stroke="#c8102e" stroke-width="0.7"/>
<line x1="50.40" y1="156.20" x2="50.40" y2="224.50" stroke="#333333" stroke-width="1.6"/>
<line x1="49.60" y1="221.70" x2="135.40" y2="221.70" stroke="#333333" stroke-width="1.6"/>
<line x1="47.20" y1="193.75" x2="50.40" y2="193.75" stroke="#333333" stroke-width="1.0"/>
<line x1="47.20" y1="165.80" x2="50.40" y2="165.80" stroke="#333333" stroke-width="1.0"/>
<line x1="47.20" y1="221.70" x2="50.40" y2="221.70" stroke="#333333" stroke-width="1.0"/>
<line x1="63.95" y1="221.70" x2="63.95" y2="224.50" stroke="#333333" stroke-width="1.0"/>
<line x1="77.50" y1="221.70" x2="77.50" y2="224.50" stroke="#333333" stroke-width="1.0"/>
<line x1="91.05" y1="221.70" x2="91.05" y2="224.50" stroke="#333333" stroke-width="1.0"/>
<line x1="104.60" y1="221.70" x2="104.60" y2="224.50" stroke="#333333" stroke-width="1.0"/>
<line x1="118.15" y1="221.70" x2="118.15" y2="224.50" stroke="#333333" stroke-width="1.0"/>
<line x1="131.70" y1="221.70" x2="131.70" y2="224.50" stroke="#333333" stroke-width="1.0"/>
<text x="44.0" y="168.4" font-size="8.6" text-anchor="end" textLength="9.4" lengthAdjust="spacingAndGlyphs" fill="#231f20" stroke="#231f20" stroke-width="0.12">1.0</text>
<text x="44.0" y="196.35" font-size="8.6" text-anchor="end" textLength="10.6" lengthAdjust="spacingAndGlyphs" fill="#231f20" stroke="#231f20" stroke-width="0.12">0.5</text>
<text x="44.0" y="224.3" font-size="8.6" text-anchor="end" textLength="10.8" lengthAdjust="spacingAndGlyphs" fill="#231f20" stroke="#231f20" stroke-width="0.12">0.0</text>
<text x="50.4" y="233.7" font-size="8.6" text-anchor="middle" textLength="4.1" lengthAdjust="spacingAndGlyphs" fill="#231f20" stroke="#231f20" stroke-width="0.12">3</text>
<text x="63.95" y="233.7" font-size="8.6" text-anchor="middle" textLength="4.1" lengthAdjust="spacingAndGlyphs" fill="#231f20" stroke="#231f20" stroke-width="0.12">7</text>
<text x="77.5" y="233.7" font-size="8.6" text-anchor="middle" textLength="6.6" lengthAdjust="spacingAndGlyphs" fill="#231f20" stroke="#231f20" stroke-width="0.12">11</text>
<text x="91.05" y="233.7" font-size="8.6" text-anchor="middle" textLength="7.9" lengthAdjust="spacingAndGlyphs" fill="#231f20" stroke="#231f20" stroke-width="0.12">15</text>
<text x="104.6" y="233.7" font-size="8.6" text-anchor="middle" textLength="8.0" lengthAdjust="spacingAndGlyphs" fill="#231f20" stroke="#231f20" stroke-width="0.12">19</text>
<text x="118.15" y="233.7" font-size="8.6" text-anchor="middle" textLength="8.1" lengthAdjust="spacingAndGlyphs" fill="#231f20" stroke="#231f20" stroke-width="0.12">23</text>
<text x="131.7" y="233.7" font-size="8.6" text-anchor="middle" textLength="8.2" lengthAdjust="spacingAndGlyphs" fill="#231f20" stroke="#231f20" stroke-width="0.12">27</text>
<text x="93.0" y="149.5" font-size="8.1" text-anchor="middle" textLength="34.2" lengthAdjust="spacingAndGlyphs" fill="#231f20" stroke="#231f20" stroke-width="0.25">sgAAVS1</text>
<polyline points="159.60,165.80 173.10,161.89 186.60,160.77 200.10,177.54 213.60,170.83 227.10,173.63 240.60,172.51" fill="none" stroke="#1f5591" stroke-width="1.3" stroke-linejoin="round"/>
<circle cx="159.60" cy="165.80" r="1.5" fill="#1f5591"/>
<circle cx="173.10" cy="161.89" r="1.5" fill="#1f5591"/>
<line x1="173.10" y1="160.77" x2="173.10" y2="163.00" stroke="#1f5591" stroke-width="0.8"/>
<line x1="171.80" y1="160.77" x2="174.40" y2="160.77" stroke="#1f5591" stroke-width="0.7"/>
<line x1="171.80" y1="163.00" x2="174.40" y2="163.00" stroke="#1f5591" stroke-width="0.7"/>
<circle cx="186.60" cy="160.77" r="1.5" fill="#1f5591"/>
<line x1="186.60" y1="156.30" x2="186.60" y2="165.24" stroke="#1f5591" stroke-width="0.8"/>
<line x1="185.30" y1="156.30" x2="187.90" y2="156.30" stroke="#1f5591" stroke-width="0.7"/>
<line x1="185.30" y1="165.24" x2="187.90" y2="165.24" stroke="#1f5591" stroke-width="0.7"/>
<circle cx="200.10" cy="177.54" r="1.5" fill="#1f5591"/>
<line x1="200.10" y1="174.74" x2="200.10" y2="180.33" stroke="#1f5591" stroke-width="0.8"/>
<line x1="198.80" y1="174.74" x2="201.40" y2="174.74" stroke="#1f5591" stroke-width="0.7"/>
<line x1="198.80" y1="180.33" x2="201.40" y2="180.33" stroke="#1f5591" stroke-width="0.7"/>
<circle cx="213.60" cy="170.83" r="1.5" fill="#1f5591"/>
<line x1="213.60" y1="169.15" x2="213.60" y2="172.51" stroke="#1f5591" stroke-width="0.8"/>
<line x1="212.30" y1="169.15" x2="214.90" y2="169.15" stroke="#1f5591" stroke-width="0.7"/>
<line x1="212.30" y1="172.51" x2="214.90" y2="172.51" stroke="#1f5591" stroke-width="0.7"/>
<circle cx="227.10" cy="173.63" r="1.5" fill="#1f5591"/>
<line x1="227.10" y1="171.39" x2="227.10" y2="175.86" stroke="#1f5591" stroke-width="0.8"/>
<line x1="225.80" y1="171.39" x2="228.40" y2="171.39" stroke="#1f5591" stroke-width="0.7"/>
<line x1="225.80" y1="175.86" x2="228.40" y2="175.86" stroke="#1f5591" stroke-width="0.7"/>
<circle cx="240.60" cy="172.51" r="1.5" fill="#1f5591"/>
<line x1="240.60" y1="169.71" x2="240.60" y2="175.30" stroke="#1f5591" stroke-width="0.8"/>
<line x1="239.30" y1="169.71" x2="241.90" y2="169.71" stroke="#1f5591" stroke-width="0.7"/>
<line x1="239.30" y1="175.30" x2="241.90" y2="175.30" stroke="#1f5591" stroke-width="0.7"/>
<polyline points="159.60,165.80 173.10,166.92 186.60,184.81 200.10,194.87 213.60,199.34 227.10,206.61 240.60,211.64" fill="none" stroke="#c8102e" stroke-width="1.3" stroke-linejoin="round"/>
<circle cx="159.60" cy="165.80" r="1.5" fill="#c8102e"/>
<circle cx="173.10" cy="166.92" r="1.5" fill="#c8102e"/>
<line x1="173.10" y1="165.80" x2="173.10" y2="168.04" stroke="#c8102e" stroke-width="0.8"/>
<line x1="171.80" y1="165.80" x2="174.40" y2="165.80" stroke="#c8102e" stroke-width="0.7"/>
<line x1="171.80" y1="168.04" x2="174.40" y2="168.04" stroke="#c8102e" stroke-width="0.7"/>
<circle cx="186.60" cy="184.81" r="1.5" fill="#c8102e"/>
<line x1="186.60" y1="182.57" x2="186.60" y2="187.04" stroke="#c8102e" stroke-width="0.8"/>
<line x1="185.30" y1="182.57" x2="187.90" y2="182.57" stroke="#c8102e" stroke-width="0.7"/>
<line x1="185.30" y1="187.04" x2="187.90" y2="187.04" stroke="#c8102e" stroke-width="0.7"/>
<circle cx="200.10" cy="194.87" r="1.5" fill="#c8102e"/>
<line x1="200.10" y1="193.19" x2="200.10" y2="196.55" stroke="#c8102e" stroke-width="0.8"/>
<line x1="198.80" y1="193.19" x2="201.40" y2="193.19" stroke="#c8102e" stroke-width="0.7"/>
<line x1="198.80" y1="196.55" x2="201.40" y2="196.55" stroke="#c8102e" stroke-width="0.7"/>
<circle cx="213.60" cy="199.34" r="1.5" fill="#c8102e"/>
<line x1="213.60" y1="197.66" x2="213.60" y2="201.02" stroke="#c8102e" stroke-width="0.8"/>
<line x1="212.30" y1="197.66" x2="214.90" y2="197.66" stroke="#c8102e" stroke-width="0.7"/>
<line x1="212.30" y1="201.02" x2="214.90" y2="201.02" stroke="#c8102e" stroke-width="0.7"/>
<circle cx="227.10" cy="206.61" r="1.5" fill="#c8102e"/>
<line x1="227.10" y1="206.05" x2="227.10" y2="207.17" stroke="#c8102e" stroke-width="0.8"/>
<line x1="225.80" y1="206.05" x2="228.40" y2="206.05" stroke="#c8102e" stroke-width="0.7"/>
<line x1="225.80" y1="207.17" x2="228.40" y2="207.17" stroke="#c8102e" stroke-width="0.7"/>
<circle cx="240.60" cy="211.64" r="1.5" fill="#c8102e"/>
<line x1="240.60" y1="211.08" x2="240.60" y2="212.20" stroke="#c8102e" stroke-width="0.8"/>
<line x1="239.30" y1="211.08" x2="241.90" y2="211.08" stroke="#c8102e" stroke-width="0.7"/>
<line x1="239.30" y1="212.20" x2="241.90" y2="212.20" stroke="#c8102e" stroke-width="0.7"/>
<line x1="159.60" y1="156.20" x2="159.60" y2="224.50" stroke="#333333" stroke-width="1.6"/>
<line x1="158.80" y1="221.70" x2="244.30" y2="221.70" stroke="#333333" stroke-width="1.6"/>
<line x1="156.40" y1="193.75" x2="159.60" y2="193.75" stroke="#333333" stroke-width="1.0"/>
<line x1="156.40" y1="165.80" x2="159.60" y2="165.80" stroke="#333333" stroke-width="1.0"/>
<line x1="156.40" y1="221.70" x2="159.60" y2="221.70" stroke="#333333" stroke-width="1.0"/>
<line x1="173.10" y1="221.70" x2="173.10" y2="224.50" stroke="#333333" stroke-width="1.0"/>
<line x1="186.60" y1="221.70" x2="186.60" y2="224.50" stroke="#333333" stroke-width="1.0"/>
<line x1="200.10" y1="221.70" x2="200.10" y2="224.50" stroke="#333333" stroke-width="1.0"/>
<line x1="213.60" y1="221.70" x2="213.60" y2="224.50" stroke="#333333" stroke-width="1.0"/>
<line x1="227.10" y1="221.70" x2="227.10" y2="224.50" stroke="#333333" stroke-width="1.0"/>
<line x1="240.60" y1="221.70" x2="240.60" y2="224.50" stroke="#333333" stroke-width="1.0"/>
<text x="153.2" y="168.4" font-size="8.6" text-anchor="end" textLength="9.4" lengthAdjust="spacingAndGlyphs" fill="#231f20" stroke="#231f20" stroke-width="0.12">1.0</text>
<text x="153.2" y="196.35" font-size="8.6" text-anchor="end" textLength="10.6" lengthAdjust="spacingAndGlyphs" fill="#231f20" stroke="#231f20" stroke-width="0.12">0.5</text>
<text x="153.2" y="224.3" font-size="8.6" text-anchor="end" textLength="10.8" lengthAdjust="spacingAndGlyphs" fill="#231f20" stroke="#231f20" stroke-width="0.12">0.0</text>
<text x="159.6" y="233.7" font-size="8.6" text-anchor="middle" textLength="4.1" lengthAdjust="spacingAndGlyphs" fill="#231f20" stroke="#231f20" stroke-width="0.12">3</text>
<text x="173.1" y="233.7" font-size="8.6" text-anchor="middle" textLength="4.1" lengthAdjust="spacingAndGlyphs" fill="#231f20" stroke="#231f20" stroke-width="0.12">7</text>
<text x="186.6" y="233.7" font-size="8.6" text-anchor="middle" textLength="6.6" lengthAdjust="spacingAndGlyphs" fill="#231f20" stroke="#231f20" stroke-width="0.12">11</text>
<text x="200.1" y="233.7" font-size="8.6" text-anchor="middle" textLength="7.9" lengthAdjust="spacingAndGlyphs" fill="#231f20" stroke="#231f20" stroke-width="0.12">15</text>
<text x="213.6" y="233.7" font-size="8.6" text-anchor="middle" textLength="8.0" lengthAdjust="spacingAndGlyphs" fill="#231f20" stroke="#231f20" stroke-width="0.12">19</text>
<text x="227.1" y="233.7" font-size="8.6" text-anchor="middle" textLength="8.1" lengthAdjust="spacingAndGlyphs" fill="#231f20" stroke="#231f20" stroke-width="0.12">23</text>
<text x="240.6" y="233.7" font-size="8.6" text-anchor="middle" textLength="8.2" lengthAdjust="spacingAndGlyphs" fill="#231f20" stroke="#231f20" stroke-width="0.12">27</text>
<text x="202.2" y="149.5" font-size="8.1" text-anchor="middle" textLength="41.5" lengthAdjust="spacingAndGlyphs" fill="#231f20" stroke="#231f20" stroke-width="0.25">sgSTAT3_1</text>
<polyline points="268.70,165.80 282.15,159.09 295.60,168.60 309.05,182.57 322.50,182.01 335.95,183.69 349.40,184.25" fill="none" stroke="#1f5591" stroke-width="1.3" stroke-linejoin="round"/>
<circle cx="268.70" cy="165.80" r="1.5" fill="#1f5591"/>
<circle cx="282.15" cy="159.09" r="1.5" fill="#1f5591"/>
<line x1="282.15" y1="156.86" x2="282.15" y2="161.33" stroke="#1f5591" stroke-width="0.8"/>
<line x1="280.85" y1="156.86" x2="283.45" y2="156.86" stroke="#1f5591" stroke-width="0.7"/>
<line x1="280.85" y1="161.33" x2="283.45" y2="161.33" stroke="#1f5591" stroke-width="0.7"/>
<circle cx="295.60" cy="168.60" r="1.5" fill="#1f5591"/>
<line x1="295.60" y1="160.21" x2="295.60" y2="176.98" stroke="#1f5591" stroke-width="0.8"/>
<line x1="294.30" y1="160.21" x2="296.90" y2="160.21" stroke="#1f5591" stroke-width="0.7"/>
<line x1="294.30" y1="176.98" x2="296.90" y2="176.98" stroke="#1f5591" stroke-width="0.7"/>
<circle cx="309.05" cy="182.57" r="1.5" fill="#1f5591"/>
<line x1="309.05" y1="181.45" x2="309.05" y2="183.69" stroke="#1f5591" stroke-width="0.8"/>
<line x1="307.75" y1="181.45" x2="310.35" y2="181.45" stroke="#1f5591" stroke-width="0.7"/>
<line x1="307.75" y1="183.69" x2="310.35" y2="183.69" stroke="#1f5591" stroke-width="0.7"/>
<circle cx="322.50" cy="182.01" r="1.5" fill="#1f5591"/>
<line x1="322.50" y1="180.33" x2="322.50" y2="183.69" stroke="#1f5591" stroke-width="0.8"/>
<line x1="321.20" y1="180.33" x2="323.80" y2="180.33" stroke="#1f5591" stroke-width="0.7"/>
<line x1="321.20" y1="183.69" x2="323.80" y2="183.69" stroke="#1f5591" stroke-width="0.7"/>
<circle cx="335.95" cy="183.69" r="1.5" fill="#1f5591"/>
<line x1="335.95" y1="182.57" x2="335.95" y2="184.81" stroke="#1f5591" stroke-width="0.8"/>
<line x1="334.65" y1="182.57" x2="337.25" y2="182.57" stroke="#1f5591" stroke-width="0.7"/>
<line x1="334.65" y1="184.81" x2="337.25" y2="184.81" stroke="#1f5591" stroke-width="0.7"/>
<circle cx="349.40" cy="184.25" r="1.5" fill="#1f5591"/>
<line x1="349.40" y1="182.01" x2="349.40" y2="186.48" stroke="#1f5591" stroke-width="0.8"/>
<line x1="348.10" y1="182.01" x2="350.70" y2="182.01" stroke="#1f5591" stroke-width="0.7"/>
<line x1="348.10" y1="186.48" x2="350.70" y2="186.48" stroke="#1f5591" stroke-width="0.7"/>
<polyline points="268.70,165.80 282.15,170.27 295.60,179.78 309.05,199.34 322.50,202.13 335.95,208.28 349.40,211.08" fill="none" stroke="#c8102e" stroke-width="1.3" stroke-linejoin="round"/>
<circle cx="268.70" cy="165.80" r="1.5" fill="#c8102e"/>
<circle cx="282.15" cy="170.27" r="1.5" fill="#c8102e"/>
<line x1="282.15" y1="168.59" x2="282.15" y2="171.95" stroke="#c8102e" stroke-width="0.8"/>
<line x1="280.85" y1="168.59" x2="283.45" y2="168.59" stroke="#c8102e" stroke-width="0.7"/>
<line x1="280.85" y1="171.95" x2="283.45" y2="171.95" stroke="#c8102e" stroke-width="0.7"/>
<circle cx="295.60" cy="179.78" r="1.5" fill="#c8102e"/>
<line x1="295.60" y1="178.10" x2="295.60" y2="181.45" stroke="#c8102e" stroke-width="0.8"/>
<line x1="294.30" y1="178.10" x2="296.90" y2="178.10" stroke="#c8102e" stroke-width="0.7"/>
<line x1="294.30" y1="181.45" x2="296.90" y2="181.45" stroke="#c8102e" stroke-width="0.7"/>
<circle cx="309.05" cy="199.34" r="1.5" fill="#c8102e"/>
<line x1="309.05" y1="198.22" x2="309.05" y2="200.46" stroke="#c8102e" stroke-width="0.8"/>
<line x1="307.75" y1="198.22" x2="310.35" y2="198.22" stroke="#c8102e" stroke-width="0.7"/>
<line x1="307.75" y1="200.46" x2="310.35" y2="200.46" stroke="#c8102e" stroke-width="0.7"/>
<circle cx="322.50" cy="202.13" r="1.5" fill="#c8102e"/>
<line x1="322.50" y1="201.02" x2="322.50" y2="203.25" stroke="#c8102e" stroke-width="0.8"/>
<line x1="321.20" y1="201.02" x2="323.80" y2="201.02" stroke="#c8102e" stroke-width="0.7"/>
<line x1="321.20" y1="203.25" x2="323.80" y2="203.25" stroke="#c8102e" stroke-width="0.7"/>
<circle cx="335.95" cy="208.28" r="1.5" fill="#c8102e"/>
<line x1="335.95" y1="207.72" x2="335.95" y2="208.84" stroke="#c8102e" stroke-width="0.8"/>
<line x1="334.65" y1="207.72" x2="337.25" y2="207.72" stroke="#c8102e" stroke-width="0.7"/>
<line x1="334.65" y1="208.84" x2="337.25" y2="208.84" stroke="#c8102e" stroke-width="0.7"/>
<circle cx="349.40" cy="211.08" r="1.5" fill="#c8102e"/>
<line x1="349.40" y1="210.52" x2="349.40" y2="211.64" stroke="#c8102e" stroke-width="0.8"/>
<line x1="348.10" y1="210.52" x2="350.70" y2="210.52" stroke="#c8102e" stroke-width="0.7"/>
<line x1="348.10" y1="211.64" x2="350.70" y2="211.64" stroke="#c8102e" stroke-width="0.7"/>
<line x1="268.70" y1="156.20" x2="268.70" y2="224.50" stroke="#333333" stroke-width="1.6"/>
<line x1="267.90" y1="221.70" x2="353.10" y2="221.70" stroke="#333333" stroke-width="1.6"/>
<line x1="265.50" y1="193.75" x2="268.70" y2="193.75" stroke="#333333" stroke-width="1.0"/>
<line x1="265.50" y1="165.80" x2="268.70" y2="165.80" stroke="#333333" stroke-width="1.0"/>
<line x1="265.50" y1="221.70" x2="268.70" y2="221.70" stroke="#333333" stroke-width="1.0"/>
<line x1="282.15" y1="221.70" x2="282.15" y2="224.50" stroke="#333333" stroke-width="1.0"/>
<line x1="295.60" y1="221.70" x2="295.60" y2="224.50" stroke="#333333" stroke-width="1.0"/>
<line x1="309.05" y1="221.70" x2="309.05" y2="224.50" stroke="#333333" stroke-width="1.0"/>
<line x1="322.50" y1="221.70" x2="322.50" y2="224.50" stroke="#333333" stroke-width="1.0"/>
<line x1="335.95" y1="221.70" x2="335.95" y2="224.50" stroke="#333333" stroke-width="1.0"/>
<line x1="349.40" y1="221.70" x2="349.40" y2="224.50" stroke="#333333" stroke-width="1.0"/>
<text x="262.3" y="168.4" font-size="8.6" text-anchor="end" textLength="9.4" lengthAdjust="spacingAndGlyphs" fill="#231f20" stroke="#231f20" stroke-width="0.12">1.0</text>
<text x="262.3" y="196.35" font-size="8.6" text-anchor="end" textLength="10.6" lengthAdjust="spacingAndGlyphs" fill="#231f20" stroke="#231f20" stroke-width="0.12">0.5</text>
<text x="262.3" y="224.3" font-size="8.6" text-anchor="end" textLength="10.8" lengthAdjust="spacingAndGlyphs" fill="#231f20" stroke="#231f20" stroke-width="0.12">0.0</text>
<text x="268.7" y="233.7" font-size="8.6" text-anchor="middle" textLength="4.1" lengthAdjust="spacingAndGlyphs" fill="#231f20" stroke="#231f20" stroke-width="0.12">3</text>
<text x="282.15" y="233.7" font-size="8.6" text-anchor="middle" textLength="4.1" lengthAdjust="spacingAndGlyphs" fill="#231f20" stroke="#231f20" stroke-width="0.12">7</text>
<text x="295.6" y="233.7" font-size="8.6" text-anchor="middle" textLength="6.6" lengthAdjust="spacingAndGlyphs" fill="#231f20" stroke="#231f20" stroke-width="0.12">11</text>
<text x="309.05" y="233.7" font-size="8.6" text-anchor="middle" textLength="7.9" lengthAdjust="spacingAndGlyphs" fill="#231f20" stroke="#231f20" stroke-width="0.12">15</text>
<text x="322.5" y="233.7" font-size="8.6" text-anchor="middle" textLength="8.0" lengthAdjust="spacingAndGlyphs" fill="#231f20" stroke="#231f20" stroke-width="0.12">19</text>
<text x="335.95" y="233.7" font-size="8.6" text-anchor="middle" textLength="8.1" lengthAdjust="spacingAndGlyphs" fill="#231f20" stroke="#231f20" stroke-width="0.12">23</text>
<text x="349.4" y="233.7" font-size="8.6" text-anchor="middle" textLength="8.2" lengthAdjust="spacingAndGlyphs" fill="#231f20" stroke="#231f20" stroke-width="0.12">27</text>
<text x="311.3" y="149.5" font-size="8.1" text-anchor="middle" textLength="42.3" lengthAdjust="spacingAndGlyphs" fill="#231f20" stroke="#231f20" stroke-width="0.25">sgSTAT3_2</text>
<polyline points="377.50,165.80 390.97,163.00 404.44,175.86 417.91,172.51 431.38,172.51 444.85,175.30 458.32,183.13" fill="none" stroke="#1f5591" stroke-width="1.3" stroke-linejoin="round"/>
<circle cx="377.50" cy="165.80" r="1.5" fill="#1f5591"/>
<circle cx="390.97" cy="163.00" r="1.5" fill="#1f5591"/>
<line x1="390.97" y1="160.77" x2="390.97" y2="165.24" stroke="#1f5591" stroke-width="0.8"/>
<line x1="389.67" y1="160.77" x2="392.27" y2="160.77" stroke="#1f5591" stroke-width="0.7"/>
<line x1="389.67" y1="165.24" x2="392.27" y2="165.24" stroke="#1f5591" stroke-width="0.7"/>
<circle cx="404.44" cy="175.86" r="1.5" fill="#1f5591"/>
<circle cx="417.91" cy="172.51" r="1.5" fill="#1f5591"/>
<line x1="417.91" y1="171.39" x2="417.91" y2="173.63" stroke="#1f5591" stroke-width="0.8"/>
<line x1="416.61" y1="171.39" x2="419.21" y2="171.39" stroke="#1f5591" stroke-width="0.7"/>
<line x1="416.61" y1="173.63" x2="419.21" y2="173.63" stroke="#1f5591" stroke-width="0.7"/>
<circle cx="431.38" cy="172.51" r="1.5" fill="#1f5591"/>
<line x1="431.38" y1="171.39" x2="431.38" y2="173.63" stroke="#1f5591" stroke-width="0.8"/>
<line x1="430.08" y1="171.39" x2="432.68" y2="171.39" stroke="#1f5591" stroke-width="0.7"/>
<line x1="430.08" y1="173.63" x2="432.68" y2="173.63" stroke="#1f5591" stroke-width="0.7"/>
<circle cx="444.85" cy="175.30" r="1.5" fill="#1f5591"/>
<line x1="444.85" y1="174.19" x2="444.85" y2="176.42" stroke="#1f5591" stroke-width="0.8"/>
<line x1="443.55" y1="174.19" x2="446.15" y2="174.19" stroke="#1f5591" stroke-width="0.7"/>
<line x1="443.55" y1="176.42" x2="446.15" y2="176.42" stroke="#1f5591" stroke-width="0.7"/>
<circle cx="458.32" cy="183.13" r="1.5" fill="#1f5591"/>
<line x1="458.32" y1="182.01" x2="458.32" y2="184.25" stroke="#1f5591" stroke-width="0.8"/>
<line x1="457.02" y1="182.01" x2="459.62" y2="182.01" stroke="#1f5591" stroke-width="0.7"/>
<line x1="457.02" y1="184.25" x2="459.62" y2="184.25" stroke="#1f5591" stroke-width="0.7"/>
<polyline points="377.50,165.80 390.97,160.77 404.44,177.54 417.91,180.33 431.38,179.22 444.85,185.37 458.32,190.95" fill="none" stroke="#c8102e" stroke-width="1.3" stroke-linejoin="round"/>
<circle cx="377.50" cy="165.80" r="1.5" fill="#c8102e"/>
<circle cx="390.97" cy="160.77" r="1.5" fill="#c8102e"/>
<line x1="390.97" y1="157.42" x2="390.97" y2="164.12" stroke="#c8102e" stroke-width="0.8"/>
<line x1="389.67" y1="157.42" x2="392.27" y2="157.42" stroke="#c8102e" stroke-width="0.7"/>
<line x1="389.67" y1="164.12" x2="392.27" y2="164.12" stroke="#c8102e" stroke-width="0.7"/>
<circle cx="404.44" cy="177.54" r="1.5" fill="#c8102e"/>
<circle cx="417.91" cy="180.33" r="1.5" fill="#c8102e"/>
<line x1="417.91" y1="179.78" x2="417.91" y2="180.89" stroke="#c8102e" stroke-width="0.8"/>
<line x1="416.61" y1="179.78" x2="419.21" y2="179.78" stroke="#c8102e" stroke-width="0.7"/>
<line x1="416.61" y1="180.89" x2="419.21" y2="180.89" stroke="#c8102e" stroke-width="0.7"/>
<circle cx="431.38" cy="179.22" r="1.5" fill="#c8102e"/>
<line x1="431.38" y1="178.10" x2="431.38" y2="180.33" stroke="#c8102e" stroke-width="0.8"/>
<line x1="430.08" y1="178.10" x2="432.68" y2="178.10" stroke="#c8102e" stroke-width="0.7"/>
<line x1="430.08" y1="180.33" x2="432.68" y2="180.33" stroke="#c8102e" stroke-width="0.7"/>
<circle cx="444.85" cy="185.37" r="1.5" fill="#c8102e"/>
<line x1="444.85" y1="184.81" x2="444.85" y2="185.92" stroke="#c8102e" stroke-width="0.8"/>
<line x1="443.55" y1="184.81" x2="446.15" y2="184.81" stroke="#c8102e" stroke-width="0.7"/>
<line x1="443.55" y1="185.92" x2="446.15" y2="185.92" stroke="#c8102e" stroke-width="0.7"/>
<circle cx="458.32" cy="190.95" r="1.5" fill="#c8102e"/>
<line x1="458.32" y1="189.28" x2="458.32" y2="192.63" stroke="#c8102e" stroke-width="0.8"/>
<line x1="457.02" y1="189.28" x2="459.62" y2="189.28" stroke="#c8102e" stroke-width="0.7"/>
<line x1="457.02" y1="192.63" x2="459.62" y2="192.63" stroke="#c8102e" stroke-width="0.7"/>
<line x1="377.50" y1="156.20" x2="377.50" y2="224.50" stroke="#333333" stroke-width="1.6"/>
<line x1="376.70" y1="221.70" x2="462.02" y2="221.70" stroke="#333333" stroke-width="1.6"/>
<line x1="374.30" y1="193.75" x2="377.50" y2="193.75" stroke="#333333" stroke-width="1.0"/>
<line x1="374.30" y1="165.80" x2="377.50" y2="165.80" stroke="#333333" stroke-width="1.0"/>
<line x1="374.30" y1="221.70" x2="377.50" y2="221.70" stroke="#333333" stroke-width="1.0"/>
<line x1="390.97" y1="221.70" x2="390.97" y2="224.50" stroke="#333333" stroke-width="1.0"/>
<line x1="404.44" y1="221.70" x2="404.44" y2="224.50" stroke="#333333" stroke-width="1.0"/>
<line x1="417.91" y1="221.70" x2="417.91" y2="224.50" stroke="#333333" stroke-width="1.0"/>
<line x1="431.38" y1="221.70" x2="431.38" y2="224.50" stroke="#333333" stroke-width="1.0"/>
<line x1="444.85" y1="221.70" x2="444.85" y2="224.50" stroke="#333333" stroke-width="1.0"/>
<line x1="458.32" y1="221.70" x2="458.32" y2="224.50" stroke="#333333" stroke-width="1.0"/>
<text x="371.1" y="168.4" font-size="8.6" text-anchor="end" textLength="9.4" lengthAdjust="spacingAndGlyphs" fill="#231f20" stroke="#231f20" stroke-width="0.12">1.0</text>
<text x="371.1" y="196.35" font-size="8.6" text-anchor="end" textLength="10.6" lengthAdjust="spacingAndGlyphs" fill="#231f20" stroke="#231f20" stroke-width="0.12">0.5</text>
<text x="371.1" y="224.3" font-size="8.6" text-anchor="end" textLength="10.8" lengthAdjust="spacingAndGlyphs" fill="#231f20" stroke="#231f20" stroke-width="0.12">0.0</text>
<text x="377.5" y="233.7" font-size="8.6" text-anchor="middle" textLength="4.1" lengthAdjust="spacingAndGlyphs" fill="#231f20" stroke="#231f20" stroke-width="0.12">3</text>
<text x="390.97" y="233.7" font-size="8.6" text-anchor="middle" textLength="4.1" lengthAdjust="spacingAndGlyphs" fill="#231f20" stroke="#231f20" stroke-width="0.12">7</text>
<text x="404.44" y="233.7" font-size="8.6" text-anchor="middle" textLength="6.6" lengthAdjust="spacingAndGlyphs" fill="#231f20" stroke="#231f20" stroke-width="0.12">11</text>
<text x="417.91" y="233.7" font-size="8.6" text-anchor="middle" textLength="7.9" lengthAdjust="spacingAndGlyphs" fill="#231f20" stroke="#231f20" stroke-width="0.12">15</text>
<text x="431.38" y="233.7" font-size="8.6" text-anchor="middle" textLength="8.0" lengthAdjust="spacingAndGlyphs" fill="#231f20" stroke="#231f20" stroke-width="0.12">19</text>
<text x="444.85" y="233.7" font-size="8.6" text-anchor="middle" textLength="8.1" lengthAdjust="spacingAndGlyphs" fill="#231f20" stroke="#231f20" stroke-width="0.12">23</text>
<text x="458.32" y="233.7" font-size="8.6" text-anchor="middle" textLength="8.2" lengthAdjust="spacingAndGlyphs" fill="#231f20" stroke="#231f20" stroke-width="0.12">27</text>
<text x="420.1" y="149.5" font-size="8.1" text-anchor="middle" textLength="28.0" lengthAdjust="spacingAndGlyphs" fill="#231f20" stroke="#231f20" stroke-width="0.25">sgRPL6</text>
<text x="253.3" y="247.5" font-size="9.2" text-anchor="middle" textLength="63" lengthAdjust="spacingAndGlyphs" fill="#231f20" stroke="#231f20" stroke-width="0.08">Days after infection</text>
<text x="463.7" y="148.3" font-size="7.7" text-anchor="start" textLength="43.8" lengthAdjust="spacingAndGlyphs" fill="#231f20" stroke="#231f20" stroke-width="0.25">Cell line: KK1</text>
<text x="463.7" y="157.0" font-size="7.7" text-anchor="start" textLength="39.4" lengthAdjust="spacingAndGlyphs" fill="#231f20" stroke="#231f20" stroke-width="0.25">(STAT3 WT)</text>
<text x="463.7" y="168.5" font-size="7.7" text-anchor="start" textLength="46.3" lengthAdjust="spacingAndGlyphs" fill="#231f20" stroke="#231f20" stroke-width="0.25">Rescue vector</text>
<line x1="466.90" y1="178.70" x2="474.80" y2="178.70" stroke="#c8102e" stroke-width="1.25"/>
<circle cx="470.8" cy="178.7" r="1.5" fill="#c8102e"/>
<text x="477.3" y="181.0" font-size="7.7" text-anchor="start" textLength="17.8" lengthAdjust="spacingAndGlyphs" fill="#231f20" stroke="#231f20" stroke-width="0.25">Mock</text>
<line x1="466.90" y1="190.00" x2="474.80" y2="190.00" stroke="#1f5591" stroke-width="1.25"/>
<circle cx="470.8" cy="190.0" r="1.5" fill="#1f5591"/>
<text x="477.3" y="192.3" font-size="7.7" text-anchor="start" textLength="35.2" lengthAdjust="spacingAndGlyphs" fill="#231f20" stroke="#231f20" stroke-width="0.25">STAT3-WT</text>
<text x="7.6" y="278.1" font-size="12" text-anchor="start" font-weight="bold" fill="#000">D</text>
<text transform="translate(16.7,320.0) rotate(-90)" font-size="9.8" text-anchor="middle" textLength="40.3" lengthAdjust="spacingAndGlyphs" fill="#231f20" stroke="#231f20" stroke-width="0.08">Cell number</text>
<text transform="translate(27.0,320.0) rotate(-90)" font-size="9.8" text-anchor="middle" textLength="71.2" lengthAdjust="spacingAndGlyphs" fill="#231f20" stroke="#231f20" stroke-width="0.08">(normalized by day 3)</text>
<polyline points="49.00,293.80 62.53,294.36 76.06,295.49 89.59,296.06 103.12,296.34 116.65,296.90 130.18,297.18" fill="none" stroke="#5a2783" stroke-width="1.3" stroke-linejoin="round"/>
<circle cx="49.00" cy="293.80" r="1.5" fill="#5a2783"/>
<circle cx="62.53" cy="294.36" r="1.5" fill="#5a2783"/>
<circle cx="76.06" cy="295.49" r="1.5" fill="#5a2783"/>
<circle cx="89.59" cy="296.06" r="1.5" fill="#5a2783"/>
<circle cx="103.12" cy="296.34" r="1.5" fill="#5a2783"/>
<circle cx="116.65" cy="296.90" r="1.5" fill="#5a2783"/>
<circle cx="130.18" cy="297.18" r="1.5" fill="#5a2783"/>
<polyline points="49.00,293.80 62.53,294.36 76.06,295.49 89.59,296.06 103.12,296.34 116.65,296.90 130.18,297.18" fill="none" stroke="#1f4f8c" stroke-width="1.3" stroke-linejoin="round"/>
<circle cx="49.00" cy="293.80" r="1.5" fill="#1f4f8c"/>
<circle cx="62.53" cy="294.36" r="1.5" fill="#1f4f8c"/>
<circle cx="76.06" cy="295.49" r="1.5" fill="#1f4f8c"/>
<circle cx="89.59" cy="296.06" r="1.5" fill="#1f4f8c"/>
<circle cx="103.12" cy="296.34" r="1.5" fill="#1f4f8c"/>
<circle cx="116.65" cy="296.90" r="1.5" fill="#1f4f8c"/>
<circle cx="130.18" cy="297.18" r="1.5" fill="#1f4f8c"/>
<polyline points="49.00,293.80 62.53,295.21 76.06,296.06 89.59,296.90 103.12,297.18 116.65,297.75 130.18,298.03" fill="none" stroke="#f7941d" stroke-width="1.3" stroke-linejoin="round"/>
<circle cx="49.00" cy="293.80" r="1.5" fill="#f7941d"/>
<circle cx="62.53" cy="295.21" r="1.5" fill="#f7941d"/>
<circle cx="76.06" cy="296.06" r="1.5" fill="#f7941d"/>
<circle cx="89.59" cy="296.90" r="1.5" fill="#f7941d"/>
<circle cx="103.12" cy="297.18" r="1.5" fill="#f7941d"/>
<circle cx="116.65" cy="297.75" r="1.5" fill="#f7941d"/>
<circle cx="130.18" cy="298.03" r="1.5" fill="#f7941d"/>
<polyline points="49.00,293.80 62.53,294.36 76.06,296.90 89.59,298.88 103.12,299.16 116.65,300.29 130.18,300.57" fill="none" stroke="#c8102e" stroke-width="1.3" stroke-linejoin="round"/>
<circle cx="49.00" cy="293.80" r="1.5" fill="#c8102e"/>
<circle cx="62.53" cy="294.36" r="1.5" fill="#c8102e"/>
<circle cx="76.06" cy="296.90" r="1.5" fill="#c8102e"/>
<circle cx="89.59" cy="298.88" r="1.5" fill="#c8102e"/>
<circle cx="103.12" cy="299.16" r="1.5" fill="#c8102e"/>
<circle cx="116.65" cy="300.29" r="1.5" fill="#c8102e"/>
<circle cx="130.18" cy="300.57" r="1.5" fill="#c8102e"/>
<polyline points="49.00,293.80 62.53,293.80 76.06,294.65 89.59,295.49 103.12,295.77 116.65,296.34 130.18,296.34" fill="none" stroke="#3dbb4e" stroke-width="1.3" stroke-linejoin="round"/>
<circle cx="49.00" cy="293.80" r="1.5" fill="#3dbb4e"/>
<circle cx="62.53" cy="293.80" r="1.5" fill="#3dbb4e"/>
<circle cx="76.06" cy="294.65" r="1.5" fill="#3dbb4e"/>
<circle cx="89.59" cy="295.49" r="1.5" fill="#3dbb4e"/>
<circle cx="103.12" cy="295.77" r="1.5" fill="#3dbb4e"/>
<circle cx="116.65" cy="296.34" r="1.5" fill="#3dbb4e"/>
<circle cx="130.18" cy="296.34" r="1.5" fill="#3dbb4e"/>
<line x1="49.00" y1="289.60" x2="49.00" y2="353.00" stroke="#333333" stroke-width="1.6"/>
<line x1="48.20" y1="350.20" x2="133.88" y2="350.20" stroke="#333333" stroke-width="1.6"/>
<line x1="45.80" y1="322.00" x2="49.00" y2="322.00" stroke="#333333" stroke-width="1.0"/>
<line x1="45.80" y1="293.80" x2="49.00" y2="293.80" stroke="#333333" stroke-width="1.0"/>
<line x1="45.80" y1="350.20" x2="49.00" y2="350.20" stroke="#333333" stroke-width="1.0"/>
<line x1="62.53" y1="350.20" x2="62.53" y2="353.00" stroke="#333333" stroke-width="1.0"/>
<line x1="76.06" y1="350.20" x2="76.06" y2="353.00" stroke="#333333" stroke-width="1.0"/>
<line x1="89.59" y1="350.20" x2="89.59" y2="353.00" stroke="#333333" stroke-width="1.0"/>
<line x1="103.12" y1="350.20" x2="103.12" y2="353.00" stroke="#333333" stroke-width="1.0"/>
<line x1="116.65" y1="350.20" x2="116.65" y2="353.00" stroke="#333333" stroke-width="1.0"/>
<line x1="130.18" y1="350.20" x2="130.18" y2="353.00" stroke="#333333" stroke-width="1.0"/>
<text x="42.6" y="296.4" font-size="8.6" text-anchor="end" textLength="9.4" lengthAdjust="spacingAndGlyphs" fill="#231f20" stroke="#231f20" stroke-width="0.12">1.0</text>
<text x="42.6" y="324.6" font-size="8.6" text-anchor="end" textLength="10.6" lengthAdjust="spacingAndGlyphs" fill="#231f20" stroke="#231f20" stroke-width="0.12">0.5</text>
<text x="42.6" y="352.8" font-size="8.6" text-anchor="end" textLength="10.8" lengthAdjust="spacingAndGlyphs" fill="#231f20" stroke="#231f20" stroke-width="0.12">0.0</text>
<text x="49.0" y="362.2" font-size="8.6" text-anchor="middle" textLength="4.1" lengthAdjust="spacingAndGlyphs" fill="#231f20" stroke="#231f20" stroke-width="0.12">3</text>
<text x="62.53" y="362.2" font-size="8.6" text-anchor="middle" textLength="4.1" lengthAdjust="spacingAndGlyphs" fill="#231f20" stroke="#231f20" stroke-width="0.12">7</text>
<text x="76.06" y="362.2" font-size="8.6" text-anchor="middle" textLength="6.6" lengthAdjust="spacingAndGlyphs" fill="#231f20" stroke="#231f20" stroke-width="0.12">11</text>
<text x="89.59" y="362.2" font-size="8.6" text-anchor="middle" textLength="7.9" lengthAdjust="spacingAndGlyphs" fill="#231f20" stroke="#231f20" stroke-width="0.12">15</text>
<text x="103.12" y="362.2" font-size="8.6" text-anchor="middle" textLength="8.0" lengthAdjust="spacingAndGlyphs" fill="#231f20" stroke="#231f20" stroke-width="0.12">19</text>
<text x="116.65" y="362.2" font-size="8.6" text-anchor="middle" textLength="8.1" lengthAdjust="spacingAndGlyphs" fill="#231f20" stroke="#231f20" stroke-width="0.12">23</text>
<text x="130.18" y="362.2" font-size="8.6" text-anchor="middle" textLength="8.2" lengthAdjust="spacingAndGlyphs" fill="#231f20" stroke="#231f20" stroke-width="0.12">27</text>
<text x="91.7" y="283.9" font-size="8.1" text-anchor="middle" textLength="33.7" lengthAdjust="spacingAndGlyphs" fill="#231f20" stroke="#231f20" stroke-width="0.25">sgAAVS1</text>
<polyline points="154.20,293.80 167.70,292.67 181.20,292.67 194.70,294.93 208.20,298.31 221.70,301.70 235.20,306.77" fill="none" stroke="#3dbb4e" stroke-width="1.3" stroke-linejoin="round"/>
<circle cx="154.20" cy="293.80" r="1.5" fill="#3dbb4e"/>
<circle cx="167.70" cy="292.67" r="1.5" fill="#3dbb4e"/>
<circle cx="181.20" cy="292.67" r="1.5" fill="#3dbb4e"/>
<circle cx="194.70" cy="294.93" r="1.5" fill="#3dbb4e"/>
<circle cx="208.20" cy="298.31" r="1.5" fill="#3dbb4e"/>
<circle cx="221.70" cy="301.70" r="1.5" fill="#3dbb4e"/>
<line x1="221.70" y1="300.57" x2="221.70" y2="302.82" stroke="#3dbb4e" stroke-width="0.8"/>
<line x1="220.40" y1="300.57" x2="223.00" y2="300.57" stroke="#3dbb4e" stroke-width="0.7"/>
<line x1="220.40" y1="302.82" x2="223.00" y2="302.82" stroke="#3dbb4e" stroke-width="0.7"/>
<circle cx="235.20" cy="306.77" r="1.5" fill="#3dbb4e"/>
<polyline points="154.20,293.80 167.70,294.36 181.20,297.18 194.70,302.26 208.20,309.03 221.70,315.80 235.20,319.74" fill="none" stroke="#f7941d" stroke-width="1.3" stroke-linejoin="round"/>
<circle cx="154.20" cy="293.80" r="1.5" fill="#f7941d"/>
<circle cx="167.70" cy="294.36" r="1.5" fill="#f7941d"/>
<circle cx="181.20" cy="297.18" r="1.5" fill="#f7941d"/>
<circle cx="194.70" cy="302.26" r="1.5" fill="#f7941d"/>
<circle cx="208.20" cy="309.03" r="1.5" fill="#f7941d"/>
<line x1="208.20" y1="306.21" x2="208.20" y2="311.85" stroke="#f7941d" stroke-width="0.8"/>
<line x1="206.90" y1="306.21" x2="209.50" y2="306.21" stroke="#f7941d" stroke-width="0.7"/>
<line x1="206.90" y1="311.85" x2="209.50" y2="311.85" stroke="#f7941d" stroke-width="0.7"/>
<circle cx="221.70" cy="315.80" r="1.5" fill="#f7941d"/>
<line x1="221.70" y1="313.54" x2="221.70" y2="318.05" stroke="#f7941d" stroke-width="0.8"/>
<line x1="220.40" y1="313.54" x2="223.00" y2="313.54" stroke="#f7941d" stroke-width="0.7"/>
<line x1="220.40" y1="318.05" x2="223.00" y2="318.05" stroke="#f7941d" stroke-width="0.7"/>
<circle cx="235.20" cy="319.74" r="1.5" fill="#f7941d"/>
<polyline points="154.20,293.80 167.70,301.70 181.20,310.16 194.70,320.31 208.20,328.20 221.70,335.54 235.20,339.48" fill="none" stroke="#c8102e" stroke-width="1.3" stroke-linejoin="round"/>
<circle cx="154.20" cy="293.80" r="1.5" fill="#c8102e"/>
<circle cx="167.70" cy="301.70" r="1.5" fill="#c8102e"/>
<circle cx="181.20" cy="310.16" r="1.5" fill="#c8102e"/>
<circle cx="194.70" cy="320.31" r="1.5" fill="#c8102e"/>
<circle cx="208.20" cy="328.20" r="1.5" fill="#c8102e"/>
<circle cx="221.70" cy="335.54" r="1.5" fill="#c8102e"/>
<circle cx="235.20" cy="339.48" r="1.5" fill="#c8102e"/>
<polyline points="154.20,293.80 167.70,295.49 181.20,302.82 194.70,311.85 208.20,318.62 221.70,325.95 235.20,331.59" fill="none" stroke="#5a2783" stroke-width="1.3" stroke-linejoin="round"/>
<circle cx="154.20" cy="293.80" r="1.5" fill="#5a2783"/>
<circle cx="167.70" cy="295.49" r="1.5" fill="#5a2783"/>
<circle cx="181.20" cy="302.82" r="1.5" fill="#5a2783"/>
<circle cx="194.70" cy="311.85" r="1.5" fill="#5a2783"/>
<circle cx="208.20" cy="318.62" r="1.5" fill="#5a2783"/>
<circle cx="221.70" cy="325.95" r="1.5" fill="#5a2783"/>
<circle cx="235.20" cy="331.59" r="1.5" fill="#5a2783"/>
<polyline points="154.20,293.80 167.70,295.49 181.20,303.95 194.70,311.85 208.20,320.31 221.70,326.51 235.20,331.59" fill="none" stroke="#1f4f8c" stroke-width="1.3" stroke-linejoin="round"/>
<circle cx="154.20" cy="293.80" r="1.5" fill="#1f4f8c"/>
<circle cx="167.70" cy="295.49" r="1.5" fill="#1f4f8c"/>
<line x1="167.70" y1="293.80" x2="167.70" y2="297.18" stroke="#1f4f8c" stroke-width="0.8"/>
<line x1="166.40" y1="293.80" x2="169.00" y2="293.80" stroke="#1f4f8c" stroke-width="0.7"/>
<line x1="166.40" y1="297.18" x2="169.00" y2="297.18" stroke="#1f4f8c" stroke-width="0.7"/>
<circle cx="181.20" cy="303.95" r="1.5" fill="#1f4f8c"/>
<line x1="181.20" y1="301.70" x2="181.20" y2="306.21" stroke="#1f4f8c" stroke-width="0.8"/>
<line x1="179.90" y1="301.70" x2="182.50" y2="301.70" stroke="#1f4f8c" stroke-width="0.7"/>
<line x1="179.90" y1="306.21" x2="182.50" y2="306.21" stroke="#1f4f8c" stroke-width="0.7"/>
<circle cx="194.70" cy="311.85" r="1.5" fill="#1f4f8c"/>
<line x1="194.70" y1="309.03" x2="194.70" y2="314.67" stroke="#1f4f8c" stroke-width="0.8"/>
<line x1="193.40" y1="309.03" x2="196.00" y2="309.03" stroke="#1f4f8c" stroke-width="0.7"/>
<line x1="193.40" y1="314.67" x2="196.00" y2="314.67" stroke="#1f4f8c" stroke-width="0.7"/>
<circle cx="208.20" cy="320.31" r="1.5" fill="#1f4f8c"/>
<line x1="208.20" y1="318.05" x2="208.20" y2="322.56" stroke="#1f4f8c" stroke-width="0.8"/>
<line x1="206.90" y1="318.05" x2="209.50" y2="318.05" stroke="#1f4f8c" stroke-width="0.7"/>
<line x1="206.90" y1="322.56" x2="209.50" y2="322.56" stroke="#1f4f8c" stroke-width="0.7"/>
<circle cx="221.70" cy="326.51" r="1.5" fill="#1f4f8c"/>
<line x1="221.70" y1="323.69" x2="221.70" y2="329.33" stroke="#1f4f8c" stroke-width="0.8"/>
<line x1="220.40" y1="323.69" x2="223.00" y2="323.69" stroke="#1f4f8c" stroke-width="0.7"/>
<line x1="220.40" y1="329.33" x2="223.00" y2="329.33" stroke="#1f4f8c" stroke-width="0.7"/>
<circle cx="235.20" cy="331.59" r="1.5" fill="#1f4f8c"/>
<line x1="235.20" y1="329.33" x2="235.20" y2="333.84" stroke="#1f4f8c" stroke-width="0.8"/>
<line x1="233.90" y1="329.33" x2="236.50" y2="329.33" stroke="#1f4f8c" stroke-width="0.7"/>
<line x1="233.90" y1="333.84" x2="236.50" y2="333.84" stroke="#1f4f8c" stroke-width="0.7"/>
<line x1="154.20" y1="289.60" x2="154.20" y2="353.00" stroke="#333333" stroke-width="1.6"/>
<line x1="153.40" y1="350.20" x2="238.90" y2="350.20" stroke="#333333" stroke-width="1.6"/>
<line x1="151.00" y1="322.00" x2="154.20" y2="322.00" stroke="#333333" stroke-width="1.0"/>
<line x1="151.00" y1="293.80" x2="154.20" y2="293.80" stroke="#333333" stroke-width="1.0"/>
<line x1="151.00" y1="350.20" x2="154.20" y2="350.20" stroke="#333333" stroke-width="1.0"/>
<line x1="167.70" y1="350.20" x2="167.70" y2="353.00" stroke="#333333" stroke-width="1.0"/>
<line x1="181.20" y1="350.20" x2="181.20" y2="353.00" stroke="#333333" stroke-width="1.0"/>
<line x1="194.70" y1="350.20" x2="194.70" y2="353.00" stroke="#333333" stroke-width="1.0"/>
<line x1="208.20" y1="350.20" x2="208.20" y2="353.00" stroke="#333333" stroke-width="1.0"/>
<line x1="221.70" y1="350.20" x2="221.70" y2="353.00" stroke="#333333" stroke-width="1.0"/>
<line x1="235.20" y1="350.20" x2="235.20" y2="353.00" stroke="#333333" stroke-width="1.0"/>
<text x="147.8" y="296.4" font-size="8.6" text-anchor="end" textLength="9.4" lengthAdjust="spacingAndGlyphs" fill="#231f20" stroke="#231f20" stroke-width="0.12">1.0</text>
<text x="147.8" y="324.6" font-size="8.6" text-anchor="end" textLength="10.6" lengthAdjust="spacingAndGlyphs" fill="#231f20" stroke="#231f20" stroke-width="0.12">0.5</text>
<text x="147.8" y="352.8" font-size="8.6" text-anchor="end" textLength="10.8" lengthAdjust="spacingAndGlyphs" fill="#231f20" stroke="#231f20" stroke-width="0.12">0.0</text>
<text x="154.2" y="362.2" font-size="8.6" text-anchor="middle" textLength="4.1" lengthAdjust="spacingAndGlyphs" fill="#231f20" stroke="#231f20" stroke-width="0.12">3</text>
<text x="167.7" y="362.2" font-size="8.6" text-anchor="middle" textLength="4.1" lengthAdjust="spacingAndGlyphs" fill="#231f20" stroke="#231f20" stroke-width="0.12">7</text>
<text x="181.2" y="362.2" font-size="8.6" text-anchor="middle" textLength="6.6" lengthAdjust="spacingAndGlyphs" fill="#231f20" stroke="#231f20" stroke-width="0.12">11</text>
<text x="194.7" y="362.2" font-size="8.6" text-anchor="middle" textLength="7.9" lengthAdjust="spacingAndGlyphs" fill="#231f20" stroke="#231f20" stroke-width="0.12">15</text>
<text x="208.2" y="362.2" font-size="8.6" text-anchor="middle" textLength="8.0" lengthAdjust="spacingAndGlyphs" fill="#231f20" stroke="#231f20" stroke-width="0.12">19</text>
<text x="221.7" y="362.2" font-size="8.6" text-anchor="middle" textLength="8.1" lengthAdjust="spacingAndGlyphs" fill="#231f20" stroke="#231f20" stroke-width="0.12">23</text>
<text x="235.2" y="362.2" font-size="8.6" text-anchor="middle" textLength="8.2" lengthAdjust="spacingAndGlyphs" fill="#231f20" stroke="#231f20" stroke-width="0.12">27</text>
<text x="196.9" y="283.9" font-size="8.1" text-anchor="middle" textLength="42.0" lengthAdjust="spacingAndGlyphs" fill="#231f20" stroke="#231f20" stroke-width="0.25">sgSTAT3_1</text>
<polyline points="258.50,293.80 272.08,296.62 285.66,299.44 299.24,305.64 312.82,303.95 326.40,305.64 339.98,310.72" fill="none" stroke="#3dbb4e" stroke-width="1.3" stroke-linejoin="round"/>
<circle cx="258.50" cy="293.80" r="1.5" fill="#3dbb4e"/>
<circle cx="272.08" cy="296.62" r="1.5" fill="#3dbb4e"/>
<circle cx="285.66" cy="299.44" r="1.5" fill="#3dbb4e"/>
<circle cx="299.24" cy="305.64" r="1.5" fill="#3dbb4e"/>
<circle cx="312.82" cy="303.95" r="1.5" fill="#3dbb4e"/>
<circle cx="326.40" cy="305.64" r="1.5" fill="#3dbb4e"/>
<circle cx="339.98" cy="310.72" r="1.5" fill="#3dbb4e"/>
<polyline points="258.50,293.80 272.08,298.31 285.66,303.39 299.24,307.90 312.82,312.98 326.40,317.49 339.98,320.87" fill="none" stroke="#f7941d" stroke-width="1.3" stroke-linejoin="round"/>
<circle cx="258.50" cy="293.80" r="1.5" fill="#f7941d"/>
<circle cx="272.08" cy="298.31" r="1.5" fill="#f7941d"/>
<circle cx="285.66" cy="303.39" r="1.5" fill="#f7941d"/>
<circle cx="299.24" cy="307.90" r="1.5" fill="#f7941d"/>
<circle cx="312.82" cy="312.98" r="1.5" fill="#f7941d"/>
<circle cx="326.40" cy="317.49" r="1.5" fill="#f7941d"/>
<line x1="326.40" y1="315.80" x2="326.40" y2="319.18" stroke="#f7941d" stroke-width="0.8"/>
<line x1="325.10" y1="315.80" x2="327.70" y2="315.80" stroke="#f7941d" stroke-width="0.7"/>
<line x1="325.10" y1="319.18" x2="327.70" y2="319.18" stroke="#f7941d" stroke-width="0.7"/>
<circle cx="339.98" cy="320.87" r="1.5" fill="#f7941d"/>
<polyline points="258.50,293.80 272.08,303.95 285.66,318.62 299.24,325.95 312.82,334.97 326.40,340.61 339.98,341.74" fill="none" stroke="#c8102e" stroke-width="1.3" stroke-linejoin="round"/>
<circle cx="258.50" cy="293.80" r="1.5" fill="#c8102e"/>
<circle cx="272.08" cy="303.95" r="1.5" fill="#c8102e"/>
<line x1="272.08" y1="302.26" x2="272.08" y2="305.64" stroke="#c8102e" stroke-width="0.8"/>
<line x1="270.78" y1="302.26" x2="273.38" y2="302.26" stroke="#c8102e" stroke-width="0.7"/>
<line x1="270.78" y1="305.64" x2="273.38" y2="305.64" stroke="#c8102e" stroke-width="0.7"/>
<circle cx="285.66" cy="318.62" r="1.5" fill="#c8102e"/>
<circle cx="299.24" cy="325.95" r="1.5" fill="#c8102e"/>
<line x1="299.24" y1="323.69" x2="299.24" y2="328.20" stroke="#c8102e" stroke-width="0.8"/>
<line x1="297.94" y1="323.69" x2="300.54" y2="323.69" stroke="#c8102e" stroke-width="0.7"/>
<line x1="297.94" y1="328.20" x2="300.54" y2="328.20" stroke="#c8102e" stroke-width="0.7"/>
<circle cx="312.82" cy="334.97" r="1.5" fill="#c8102e"/>
<circle cx="326.40" cy="340.61" r="1.5" fill="#c8102e"/>
<circle cx="339.98" cy="341.74" r="1.5" fill="#c8102e"/>
<polyline points="258.50,293.80 272.08,304.52 285.66,311.85 299.24,318.62 312.82,325.38 326.40,331.02 339.98,334.97" fill="none" stroke="#5a2783" stroke-width="1.3" stroke-linejoin="round"/>
<circle cx="258.50" cy="293.80" r="1.5" fill="#5a2783"/>
<circle cx="272.08" cy="304.52" r="1.5" fill="#5a2783"/>
<circle cx="285.66" cy="311.85" r="1.5" fill="#5a2783"/>
<circle cx="299.24" cy="318.62" r="1.5" fill="#5a2783"/>
<circle cx="312.82" cy="325.38" r="1.5" fill="#5a2783"/>
<circle cx="326.40" cy="331.02" r="1.5" fill="#5a2783"/>
<circle cx="339.98" cy="334.97" r="1.5" fill="#5a2783"/>
<polyline points="258.50,293.80 272.08,298.88 285.66,308.46 299.24,318.62 312.82,325.38 326.40,331.02 339.98,335.54" fill="none" stroke="#1f4f8c" stroke-width="1.3" stroke-linejoin="round"/>
<circle cx="258.50" cy="293.80" r="1.5" fill="#1f4f8c"/>
<circle cx="272.08" cy="298.88" r="1.5" fill="#1f4f8c"/>
<circle cx="285.66" cy="308.46" r="1.5" fill="#1f4f8c"/>
<circle cx="299.24" cy="318.62" r="1.5" fill="#1f4f8c"/>
<circle cx="312.82" cy="325.38" r="1.5" fill="#1f4f8c"/>
<circle cx="326.40" cy="331.02" r="1.5" fill="#1f4f8c"/>
<circle cx="339.98" cy="335.54" r="1.5" fill="#1f4f8c"/>
<line x1="258.50" y1="289.60" x2="258.50" y2="353.00" stroke="#333333" stroke-width="1.6"/>
<line x1="257.70" y1="350.20" x2="343.68" y2="350.20" stroke="#333333" stroke-width="1.6"/>
<line x1="255.30" y1="322.00" x2="258.50" y2="322.00" stroke="#333333" stroke-width="1.0"/>
<line x1="255.30" y1="293.80" x2="258.50" y2="293.80" stroke="#333333" stroke-width="1.0"/>
<line x1="255.30" y1="350.20" x2="258.50" y2="350.20" stroke="#333333" stroke-width="1.0"/>
<line x1="272.08" y1="350.20" x2="272.08" y2="353.00" stroke="#333333" stroke-width="1.0"/>
<line x1="285.66" y1="350.20" x2="285.66" y2="353.00" stroke="#333333" stroke-width="1.0"/>
<line x1="299.24" y1="350.20" x2="299.24" y2="353.00" stroke="#333333" stroke-width="1.0"/>
<line x1="312.82" y1="350.20" x2="312.82" y2="353.00" stroke="#333333" stroke-width="1.0"/>
<line x1="326.40" y1="350.20" x2="326.40" y2="353.00" stroke="#333333" stroke-width="1.0"/>
<line x1="339.98" y1="350.20" x2="339.98" y2="353.00" stroke="#333333" stroke-width="1.0"/>
<text x="252.1" y="296.4" font-size="8.6" text-anchor="end" textLength="9.4" lengthAdjust="spacingAndGlyphs" fill="#231f20" stroke="#231f20" stroke-width="0.12">1.0</text>
<text x="252.1" y="324.6" font-size="8.6" text-anchor="end" textLength="10.6" lengthAdjust="spacingAndGlyphs" fill="#231f20" stroke="#231f20" stroke-width="0.12">0.5</text>
<text x="252.1" y="352.8" font-size="8.6" text-anchor="end" textLength="10.8" lengthAdjust="spacingAndGlyphs" fill="#231f20" stroke="#231f20" stroke-width="0.12">0.0</text>
<text x="258.5" y="362.2" font-size="8.6" text-anchor="middle" textLength="4.1" lengthAdjust="spacingAndGlyphs" fill="#231f20" stroke="#231f20" stroke-width="0.12">3</text>
<text x="272.08" y="362.2" font-size="8.6" text-anchor="middle" textLength="4.1" lengthAdjust="spacingAndGlyphs" fill="#231f20" stroke="#231f20" stroke-width="0.12">7</text>
<text x="285.66" y="362.2" font-size="8.6" text-anchor="middle" textLength="6.6" lengthAdjust="spacingAndGlyphs" fill="#231f20" stroke="#231f20" stroke-width="0.12">11</text>
<text x="299.24" y="362.2" font-size="8.6" text-anchor="middle" textLength="7.9" lengthAdjust="spacingAndGlyphs" fill="#231f20" stroke="#231f20" stroke-width="0.12">15</text>
<text x="312.82" y="362.2" font-size="8.6" text-anchor="middle" textLength="8.0" lengthAdjust="spacingAndGlyphs" fill="#231f20" stroke="#231f20" stroke-width="0.12">19</text>
<text x="326.4" y="362.2" font-size="8.6" text-anchor="middle" textLength="8.1" lengthAdjust="spacingAndGlyphs" fill="#231f20" stroke="#231f20" stroke-width="0.12">23</text>
<text x="339.98" y="362.2" font-size="8.6" text-anchor="middle" textLength="8.2" lengthAdjust="spacingAndGlyphs" fill="#231f20" stroke="#231f20" stroke-width="0.12">27</text>
<text x="301.2" y="283.9" font-size="8.1" text-anchor="middle" textLength="42.5" lengthAdjust="spacingAndGlyphs" fill="#231f20" stroke="#231f20" stroke-width="0.25">sgSTAT3_2</text>
<polyline points="363.50,293.80 377.02,312.98 390.54,332.72 404.06,338.92 417.58,342.30 431.10,344.00 444.62,345.69" fill="none" stroke="#1f4f8c" stroke-width="1.3" stroke-linejoin="round"/>
<circle cx="363.50" cy="293.80" r="1.5" fill="#1f4f8c"/>
<circle cx="377.02" cy="312.98" r="1.5" fill="#1f4f8c"/>
<circle cx="390.54" cy="332.72" r="1.5" fill="#1f4f8c"/>
<circle cx="404.06" cy="338.92" r="1.5" fill="#1f4f8c"/>
<circle cx="417.58" cy="342.30" r="1.5" fill="#1f4f8c"/>
<circle cx="431.10" cy="344.00" r="1.5" fill="#1f4f8c"/>
<circle cx="444.62" cy="345.69" r="1.5" fill="#1f4f8c"/>
<polyline points="363.50,293.80 377.02,316.36 390.54,334.41 404.06,340.05 417.58,342.87 431.10,344.56 444.62,345.69" fill="none" stroke="#f7941d" stroke-width="1.3" stroke-linejoin="round"/>
<circle cx="363.50" cy="293.80" r="1.5" fill="#f7941d"/>
<circle cx="377.02" cy="316.36" r="1.5" fill="#f7941d"/>
<circle cx="390.54" cy="334.41" r="1.5" fill="#f7941d"/>
<circle cx="404.06" cy="340.05" r="1.5" fill="#f7941d"/>
<circle cx="417.58" cy="342.87" r="1.5" fill="#f7941d"/>
<circle cx="431.10" cy="344.56" r="1.5" fill="#f7941d"/>
<circle cx="444.62" cy="345.69" r="1.5" fill="#f7941d"/>
<polyline points="363.50,293.80 377.02,312.41 390.54,332.15 404.06,338.36 417.58,341.74 431.10,343.43 444.62,345.69" fill="none" stroke="#5a2783" stroke-width="1.3" stroke-linejoin="round"/>
<circle cx="363.50" cy="293.80" r="1.5" fill="#5a2783"/>
<circle cx="377.02" cy="312.41" r="1.5" fill="#5a2783"/>
<circle cx="390.54" cy="332.15" r="1.5" fill="#5a2783"/>
<circle cx="404.06" cy="338.36" r="1.5" fill="#5a2783"/>
<circle cx="417.58" cy="341.74" r="1.5" fill="#5a2783"/>
<circle cx="431.10" cy="343.43" r="1.5" fill="#5a2783"/>
<circle cx="444.62" cy="345.69" r="1.5" fill="#5a2783"/>
<polyline points="363.50,293.80 377.02,315.23 390.54,334.97 404.06,340.05 417.58,342.87 431.10,344.56 444.62,345.69" fill="none" stroke="#3dbb4e" stroke-width="1.3" stroke-linejoin="round"/>
<circle cx="363.50" cy="293.80" r="1.5" fill="#3dbb4e"/>
<circle cx="377.02" cy="315.23" r="1.5" fill="#3dbb4e"/>
<circle cx="390.54" cy="334.97" r="1.5" fill="#3dbb4e"/>
<circle cx="404.06" cy="340.05" r="1.5" fill="#3dbb4e"/>
<circle cx="417.58" cy="342.87" r="1.5" fill="#3dbb4e"/>
<circle cx="431.10" cy="344.56" r="1.5" fill="#3dbb4e"/>
<circle cx="444.62" cy="345.69" r="1.5" fill="#3dbb4e"/>
<polyline points="363.50,293.80 377.02,308.46 390.54,328.20 404.06,336.10 417.58,341.18 431.10,343.43 444.62,345.12" fill="none" stroke="#c8102e" stroke-width="1.3" stroke-linejoin="round"/>
<circle cx="363.50" cy="293.80" r="1.5" fill="#c8102e"/>
<circle cx="377.02" cy="308.46" r="1.5" fill="#c8102e"/>
<circle cx="390.54" cy="328.20" r="1.5" fill="#c8102e"/>
<circle cx="404.06" cy="336.10" r="1.5" fill="#c8102e"/>
<circle cx="417.58" cy="341.18" r="1.5" fill="#c8102e"/>
<circle cx="431.10" cy="343.43" r="1.5" fill="#c8102e"/>
<circle cx="444.62" cy="345.12" r="1.5" fill="#c8102e"/>
<line x1="363.50" y1="289.60" x2="363.50" y2="353.00" stroke="#333333" stroke-width="1.6"/>
<line x1="362.70" y1="350.20" x2="448.32" y2="350.20" stroke="#333333" stroke-width="1.6"/>
<line x1="360.30" y1="322.00" x2="363.50" y2="322.00" stroke="#333333" stroke-width="1.0"/>
<line x1="360.30" y1="293.80" x2="363.50" y2="293.80" stroke="#333333" stroke-width="1.0"/>
<line x1="360.30" y1="350.20" x2="363.50" y2="350.20" stroke="#333333" stroke-width="1.0"/>
<line x1="377.02" y1="350.20" x2="377.02" y2="353.00" stroke="#333333" stroke-width="1.0"/>
<line x1="390.54" y1="350.20" x2="390.54" y2="353.00" stroke="#333333" stroke-width="1.0"/>
<line x1="404.06" y1="350.20" x2="404.06" y2="353.00" stroke="#333333" stroke-width="1.0"/>
<line x1="417.58" y1="350.20" x2="417.58" y2="353.00" stroke="#333333" stroke-width="1.0"/>
<line x1="431.10" y1="350.20" x2="431.10" y2="353.00" stroke="#333333" stroke-width="1.0"/>
<line x1="444.62" y1="350.20" x2="444.62" y2="353.00" stroke="#333333" stroke-width="1.0"/>
<text x="357.1" y="296.4" font-size="8.6" text-anchor="end" textLength="9.4" lengthAdjust="spacingAndGlyphs" fill="#231f20" stroke="#231f20" stroke-width="0.12">1.0</text>
<text x="357.1" y="324.6" font-size="8.6" text-anchor="end" textLength="10.6" lengthAdjust="spacingAndGlyphs" fill="#231f20" stroke="#231f20" stroke-width="0.12">0.5</text>
<text x="357.1" y="352.8" font-size="8.6" text-anchor="end" textLength="10.8" lengthAdjust="spacingAndGlyphs" fill="#231f20" stroke="#231f20" stroke-width="0.12">0.0</text>
<text x="363.5" y="362.2" font-size="8.6" text-anchor="middle" textLength="4.1" lengthAdjust="spacingAndGlyphs" fill="#231f20" stroke="#231f20" stroke-width="0.12">3</text>
<text x="377.02" y="362.2" font-size="8.6" text-anchor="middle" textLength="4.1" lengthAdjust="spacingAndGlyphs" fill="#231f20" stroke="#231f20" stroke-width="0.12">7</text>
<text x="390.54" y="362.2" font-size="8.6" text-anchor="middle" textLength="6.6" lengthAdjust="spacingAndGlyphs" fill="#231f20" stroke="#231f20" stroke-width="0.12">11</text>
<text x="404.06" y="362.2" font-size="8.6" text-anchor="middle" textLength="7.9" lengthAdjust="spacingAndGlyphs" fill="#231f20" stroke="#231f20" stroke-width="0.12">15</text>
<text x="417.58" y="362.2" font-size="8.6" text-anchor="middle" textLength="8.0" lengthAdjust="spacingAndGlyphs" fill="#231f20" stroke="#231f20" stroke-width="0.12">19</text>
<text x="431.1" y="362.2" font-size="8.6" text-anchor="middle" textLength="8.1" lengthAdjust="spacingAndGlyphs" fill="#231f20" stroke="#231f20" stroke-width="0.12">23</text>
<text x="444.62" y="362.2" font-size="8.6" text-anchor="middle" textLength="8.2" lengthAdjust="spacingAndGlyphs" fill="#231f20" stroke="#231f20" stroke-width="0.12">27</text>
<text x="406.2" y="283.9" font-size="8.1" text-anchor="middle" textLength="27.5" lengthAdjust="spacingAndGlyphs" fill="#231f20" stroke="#231f20" stroke-width="0.25">sgRPL6</text>
<text x="248.3" y="375.9" font-size="9.2" text-anchor="middle" textLength="63" lengthAdjust="spacingAndGlyphs" fill="#231f20" stroke="#231f20" stroke-width="0.08">Days after infection</text>
<text x="483.8" y="281.3" font-size="8.6" text-anchor="middle" textLength="48.8" lengthAdjust="spacingAndGlyphs" fill="#231f20" stroke="#231f20" stroke-width="0.25">Cell line: ST1</text>
<text x="484.0" y="291.1" font-size="8.6" text-anchor="middle" textLength="60.4" lengthAdjust="spacingAndGlyphs" fill="#231f20" stroke="#231f20" stroke-width="0.25">(STAT3-D556N)</text>
<text x="454.8" y="302.2" font-size="7.4" text-anchor="start" textLength="45.7" lengthAdjust="spacingAndGlyphs" fill="#231f20" stroke="#231f20" stroke-width="0.25">Rescue vector</text>
<line x1="454.80" y1="312.20" x2="462.30" y2="312.20" stroke="#c8102e" stroke-width="1.25"/>
<circle cx="458.6" cy="312.20" r="1.5" fill="#c8102e"/>
<text x="465.7" y="314.8" font-size="8.2" text-anchor="start" textLength="17.7" lengthAdjust="spacingAndGlyphs" fill="#231f20" stroke="#231f20" stroke-width="0.25">Mock</text>
<line x1="454.80" y1="323.50" x2="462.30" y2="323.50" stroke="#1f4f8c" stroke-width="1.25"/>
<circle cx="458.6" cy="323.50" r="1.5" fill="#1f4f8c"/>
<text x="465.7" y="326.1" font-size="8.2" text-anchor="start" textLength="35.3" lengthAdjust="spacingAndGlyphs" fill="#231f20" stroke="#231f20" stroke-width="0.25">STAT3-WT</text>
<line x1="454.80" y1="334.80" x2="462.30" y2="334.80" stroke="#3dbb4e" stroke-width="1.25"/>
<circle cx="458.6" cy="334.80" r="1.5" fill="#3dbb4e"/>
<text x="465.7" y="337.4" font-size="8.2" text-anchor="start" textLength="47.3" lengthAdjust="spacingAndGlyphs" fill="#231f20" stroke="#231f20" stroke-width="0.25">STAT3-D556N</text>
<line x1="454.80" y1="346.10" x2="462.30" y2="346.10" stroke="#5a2783" stroke-width="1.25"/>
<circle cx="458.6" cy="346.10" r="1.5" fill="#5a2783"/>
<text x="465.7" y="348.7" font-size="8.2" text-anchor="start" textLength="45.1" lengthAdjust="spacingAndGlyphs" fill="#231f20" stroke="#231f20" stroke-width="0.25">STAT3-Y640F</text>
<line x1="454.80" y1="357.40" x2="462.30" y2="357.40" stroke="#f7941d" stroke-width="1.25"/>
<circle cx="458.6" cy="357.40" r="1.5" fill="#f7941d"/>
<text x="465.7" y="360.0" font-size="8.2" text-anchor="start" textLength="46.3" lengthAdjust="spacingAndGlyphs" fill="#231f20" stroke="#231f20" stroke-width="0.25">STAT3-D661Y</text>
<text x="8.3" y="404.5" font-size="12" text-anchor="start" font-weight="bold" fill="#000">E</text>
<text x="75.3" y="410.9" font-size="8.8" text-anchor="middle" textLength="17.6" lengthAdjust="spacingAndGlyphs" fill="#231f20" stroke="#231f20" stroke-width="0.25">MCL</text>
<text x="152.7" y="411.0" font-size="8.8" text-anchor="middle" textLength="19.6" lengthAdjust="spacingAndGlyphs" fill="#231f20" stroke="#231f20" stroke-width="0.25">ATLL</text>
<line x1="55.40" y1="415.50" x2="95.20" y2="415.50" stroke="#111" stroke-width="1.0"/>
<line x1="100.70" y1="415.50" x2="205.00" y2="415.50" stroke="#111" stroke-width="1.0"/>
<text transform="translate(67.7,465.3) rotate(-90)" font-size="8.6" text-anchor="start" textLength="20.5" lengthAdjust="spacingAndGlyphs" fill="#231f20" stroke="#231f20" stroke-width="0.25">UPN1</text>
<text transform="translate(81.5,465.3) rotate(-90)" font-size="8.6" text-anchor="start" textLength="19.7" lengthAdjust="spacingAndGlyphs" fill="#231f20" stroke="#231f20" stroke-width="0.25">JVM2</text>
<text transform="translate(95.3,465.3) rotate(-90)" font-size="8.6" text-anchor="start" textLength="24.0" lengthAdjust="spacingAndGlyphs" fill="#231f20" stroke="#231f20" stroke-width="0.25">JEKO1</text>
<text transform="translate(109.1,465.3) rotate(-90)" font-size="8.6" text-anchor="start" textLength="41.0" lengthAdjust="spacingAndGlyphs" fill="#231f20" stroke="#231f20" stroke-width="0.25">ED40515(–)</text>
<text transform="translate(122.9,465.3) rotate(-90)" font-size="8.6" text-anchor="start" textLength="10.2" lengthAdjust="spacingAndGlyphs" fill="#231f20" stroke="#231f20" stroke-width="0.25">ST1</text>
<text transform="translate(136.7,465.3) rotate(-90)" font-size="8.6" text-anchor="start" textLength="25.2" lengthAdjust="spacingAndGlyphs" fill="#231f20" stroke="#231f20" stroke-width="0.25">Su9T01</text>
<text transform="translate(150.5,465.3) rotate(-90)" font-size="8.6" text-anchor="start" textLength="12.5" lengthAdjust="spacingAndGlyphs" fill="#231f20" stroke="#231f20" stroke-width="0.25">KK1</text>
<text transform="translate(164.3,465.3) rotate(-90)" font-size="8.6" text-anchor="start" textLength="27.7" lengthAdjust="spacingAndGlyphs" fill="#231f20" stroke="#231f20" stroke-width="0.25">TL-Om1</text>
<text transform="translate(178.1,465.3) rotate(-90)" font-size="8.6" text-anchor="start" textLength="46.7" lengthAdjust="spacingAndGlyphs" fill="#231f20" stroke="#231f20" stroke-width="0.25">ED41214C(–)</text>
<text transform="translate(191.9,465.3) rotate(-90)" font-size="8.6" text-anchor="start" textLength="14.7" lengthAdjust="spacingAndGlyphs" fill="#231f20" stroke="#231f20" stroke-width="0.25">KOB</text>
<text transform="translate(205.7,465.3) rotate(-90)" font-size="8.6" text-anchor="start" textLength="39.8" lengthAdjust="spacingAndGlyphs" fill="#231f20" stroke="#231f20" stroke-width="0.25">ATL43Tb(–)</text>
<text x="47.9" y="480.0" font-size="8.8" text-anchor="end" textLength="30.5" lengthAdjust="spacingAndGlyphs" fill="#231f20" stroke="#231f20" stroke-width="0.25">P-STAT3</text>
<text x="47.9" y="496.0" font-size="8.8" text-anchor="end" textLength="24.9" lengthAdjust="spacingAndGlyphs" fill="#231f20" stroke="#231f20" stroke-width="0.25">Longer</text>
<text x="47.9" y="504.9" font-size="8.8" text-anchor="end" textLength="32.7" lengthAdjust="spacingAndGlyphs" fill="#231f20" stroke="#231f20" stroke-width="0.25">exposure</text>
<text x="47.9" y="520.6" font-size="8.8" text-anchor="end" textLength="23.3" lengthAdjust="spacingAndGlyphs" fill="#231f20" stroke="#231f20" stroke-width="0.25">STAT3</text>
<text x="47.9" y="541.2" font-size="8.8" text-anchor="end" textLength="27.6" lengthAdjust="spacingAndGlyphs" fill="#231f20" stroke="#231f20" stroke-width="0.25">GAPDH</text>
<line x1="50.80" y1="468.90" x2="50.80" y2="506.00" stroke="#6a6a6a" stroke-width="1.2"/>
<rect x="55.40" y="468.10" width="155.20" height="18.20" fill="#f5f5f5"/>
<rect x="73.50" y="477.70" width="10.00" height="1.80" rx="0.90" fill="#dcdcdc" opacity="1.0" filter="url(#b10)"/>
<rect x="101.80" y="472.00" width="11.00" height="9.60" rx="3.50" fill="#9c9c9c" opacity="1.0" filter="url(#b9)"/>
<rect x="102.30" y="476.60" width="10.00" height="4.00" rx="1.50" fill="#707070" opacity="1.0" filter="url(#b8)"/>
<rect x="102.80" y="472.60" width="9.00" height="2.40" rx="1.20" fill="#a8a8a8" opacity="1.0" filter="url(#b8)"/>
<rect x="115.00" y="475.20" width="11.00" height="5.40" rx="2.00" fill="#9a9a9a" opacity="1.0" filter="url(#b8)"/>
<rect x="115.40" y="475.60" width="10.20" height="2.20" rx="1.00" fill="#777" opacity="1.0" filter="url(#b6)"/>
<rect x="128.40" y="475.40" width="11.00" height="4.40" rx="2.00" fill="#a4a4a4" opacity="1.0" filter="url(#b8)"/>
<rect x="128.80" y="475.60" width="10.20" height="2.00" rx="1.00" fill="#8a8a8a" opacity="1.0" filter="url(#b6)"/>
<rect x="142.20" y="472.80" width="10.60" height="6.80" rx="2.50" fill="#8a8a8a" opacity="1.0" filter="url(#b8)"/>
<rect x="142.60" y="473.40" width="9.80" height="3.00" rx="1.20" fill="#5a5a5a" opacity="1.0" filter="url(#b6)"/>
<rect x="159.00" y="475.40" width="5.00" height="1.20" rx="0.60" fill="#ececec" opacity="1.0" filter="url(#b8)"/>
<rect x="169.30" y="472.80" width="11.00" height="5.20" rx="2.00" fill="#909090" opacity="1.0" filter="url(#b8)"/>
<rect x="169.60" y="473.20" width="10.40" height="2.40" rx="1.00" fill="#505050" opacity="1.0" filter="url(#b6)"/>
<rect x="182.50" y="474.00" width="11.10" height="3.40" rx="1.50" fill="#c4c4c4" opacity="1.0" filter="url(#b8)"/>
<rect x="56.05" y="468.75" width="153.90" height="16.90" rx="0.8" fill="none" stroke="#1c1c1c" stroke-width="1.3"/>
<rect x="55.40" y="488.80" width="155.20" height="17.70" fill="#e0e0e0"/>
<rect x="56.00" y="489.60" width="28.00" height="16.00" rx="3.00" fill="#cfcfcf" opacity="1.0" filter="url(#b25)"/>
<rect x="71.95" y="494.50" width="11.50" height="4.20" rx="2.10" fill="#151515" opacity="1.0" filter="url(#b8)"/>
<rect x="72.45" y="498.70" width="10.50" height="3.00" rx="1.50" fill="#4a4a4a" opacity="1.0" filter="url(#b8)"/>
<rect x="98.20" y="489.85" width="54.00" height="15.50" rx="4.00" fill="#000" opacity="1.0" filter="url(#b8)"/>
<rect x="96.80" y="488.20" width="15.00" height="19.00" rx="6.00" fill="#000" opacity="1.0" filter="url(#b9)"/>
<rect x="111.35" y="488.70" width="14.50" height="18.00" rx="6.00" fill="#000" opacity="1.0" filter="url(#b9)"/>
<rect x="125.05" y="488.90" width="14.50" height="17.60" rx="6.00" fill="#000" opacity="1.0" filter="url(#b9)"/>
<rect x="138.50" y="488.50" width="15.00" height="18.40" rx="6.00" fill="#000" opacity="1.0" filter="url(#b9)"/>
<rect x="155.25" y="496.50" width="10.50" height="1.80" rx="0.90" fill="#262626" opacity="1.0" filter="url(#b6)"/>
<rect x="166.25" y="489.65" width="16.50" height="16.50" rx="7.00" fill="#000" opacity="1.0" filter="url(#b9)"/>
<rect x="180.50" y="493.80" width="15.00" height="8.80" rx="3.50" fill="#030303" opacity="1.0" filter="url(#b9)"/>
<rect x="180.00" y="494.50" width="6.00" height="7.50" rx="3.75" fill="#000" opacity="1.0" filter="url(#b9)"/>
<rect x="197.00" y="491.00" width="11.00" height="12.00" rx="3.00" fill="#cfcfcf" opacity="1.0" filter="url(#b20)"/>
<rect x="56.05" y="489.45" width="153.90" height="16.40" rx="0.8" fill="none" stroke="#1c1c1c" stroke-width="1.3"/>
<rect x="55.40" y="509.60" width="155.20" height="17.00" fill="#f1f1f1"/>
<rect x="100.85" y="511.50" width="10.50" height="8.00" rx="3.00" fill="#8a8a8a" opacity="1.0" filter="url(#b12)"/>
<rect x="57.70" y="517.70" width="10.20" height="2.40" rx="1.20" fill="#8e8e8e" opacity="1.0" filter="url(#b8)"/>
<rect x="70.40" y="516.80" width="12.70" height="4.10" rx="2.05" fill="#111" opacity="1.0" filter="url(#b8)"/>
<rect x="85.40" y="517.70" width="10.20" height="2.40" rx="1.20" fill="#8e8e8e" opacity="1.0" filter="url(#b8)"/>
<rect x="98.70" y="516.30" width="12.10" height="5.40" rx="2.70" fill="#050505" opacity="1.0" filter="url(#b8)"/>
<rect x="113.10" y="518.00" width="10.80" height="3.20" rx="1.60" fill="#3a3a3a" opacity="1.0" filter="url(#b8)"/>
<rect x="126.10" y="517.10" width="11.80" height="4.20" rx="2.10" fill="#1c1c1c" opacity="1.0" filter="url(#b8)"/>
<rect x="140.20" y="516.70" width="12.10" height="4.80" rx="2.40" fill="#111" opacity="1.0" filter="url(#b8)"/>
<rect x="154.70" y="518.10" width="11.40" height="2.60" rx="1.30" fill="#8e8e8e" opacity="1.0" filter="url(#b8)"/>
<rect x="169.40" y="513.60" width="11.10" height="2.70" rx="1.35" fill="#2a2a2a" opacity="1.0" filter="url(#b8)"/>
<rect x="169.40" y="517.10" width="11.10" height="3.80" rx="1.90" fill="#1c1c1c" opacity="1.0" filter="url(#b8)"/>
<rect x="182.50" y="517.70" width="12.10" height="3.20" rx="1.60" fill="#4a4a4a" opacity="1.0" filter="url(#b8)"/>
<rect x="197.70" y="518.10" width="11.60" height="3.20" rx="1.60" fill="#363636" opacity="1.0" filter="url(#b8)"/>
<rect x="56.05" y="510.25" width="153.90" height="15.70" rx="0.8" fill="none" stroke="#1c1c1c" stroke-width="1.3"/>
<rect x="55.40" y="530.10" width="155.20" height="17.20" fill="#e8e8e8"/>
<rect x="70.40" y="531.70" width="2.40" height="14.00" rx="1.00" fill="#f3f3f3" opacity="1.0" filter="url(#b8)"/>
<rect x="84.20" y="531.70" width="2.40" height="14.00" rx="1.00" fill="#f3f3f3" opacity="1.0" filter="url(#b8)"/>
<rect x="98.00" y="531.70" width="2.40" height="14.00" rx="1.00" fill="#f3f3f3" opacity="1.0" filter="url(#b8)"/>
<rect x="111.80" y="531.70" width="2.40" height="14.00" rx="1.00" fill="#f3f3f3" opacity="1.0" filter="url(#b8)"/>
<rect x="125.60" y="531.70" width="2.40" height="14.00" rx="1.00" fill="#f3f3f3" opacity="1.0" filter="url(#b8)"/>
<rect x="139.40" y="531.70" width="2.40" height="14.00" rx="1.00" fill="#f3f3f3" opacity="1.0" filter="url(#b8)"/>
<rect x="153.20" y="531.70" width="2.40" height="14.00" rx="1.00" fill="#f3f3f3" opacity="1.0" filter="url(#b8)"/>
<rect x="167.00" y="531.70" width="2.40" height="14.00" rx="1.00" fill="#f3f3f3" opacity="1.0" filter="url(#b8)"/>
<rect x="180.80" y="531.70" width="2.40" height="14.00" rx="1.00" fill="#f3f3f3" opacity="1.0" filter="url(#b8)"/>
<rect x="194.60" y="531.70" width="2.40" height="14.00" rx="1.00" fill="#f3f3f3" opacity="1.0" filter="url(#b8)"/>
<rect x="57.70" y="535.30" width="11.00" height="3.90" rx="1.95" fill="#151515" opacity="1.0" filter="url(#b8)"/>
<rect x="70.40" y="535.30" width="13.00" height="6.00" rx="3.00" fill="#050505" opacity="1.0" filter="url(#b8)"/>
<rect x="84.90" y="535.30" width="12.70" height="4.80" rx="2.40" fill="#0a0a0a" opacity="1.0" filter="url(#b8)"/>
<rect x="98.10" y="532.20" width="14.10" height="11.70" rx="5.85" fill="#000" opacity="1.0" filter="url(#b8)"/>
<rect x="112.30" y="534.50" width="12.70" height="6.80" rx="3.40" fill="#0a0a0a" opacity="1.0" filter="url(#b8)"/>
<rect x="125.70" y="534.50" width="13.10" height="6.80" rx="3.40" fill="#0a0a0a" opacity="1.0" filter="url(#b8)"/>
<rect x="140.20" y="533.90" width="12.90" height="7.60" rx="3.80" fill="#050505" opacity="1.0" filter="url(#b8)"/>
<rect x="154.70" y="533.30" width="13.60" height="8.60" rx="4.30" fill="#000" opacity="1.0" filter="url(#b8)"/>
<rect x="169.40" y="535.20" width="11.40" height="4.70" rx="2.35" fill="#1a1a1a" opacity="1.0" filter="url(#b8)"/>
<rect x="182.50" y="535.20" width="12.80" height="4.70" rx="2.35" fill="#1a1a1a" opacity="1.0" filter="url(#b8)"/>
<rect x="197.10" y="534.20" width="12.90" height="6.70" rx="3.35" fill="#050505" opacity="1.0" filter="url(#b8)"/>
<rect x="56.05" y="530.75" width="153.90" height="15.90" rx="0.8" fill="none" stroke="#1c1c1c" stroke-width="1.3"/>
<text x="265.9" y="405.3" font-size="12" text-anchor="start" font-weight="bold" fill="#000">F</text>
<text x="311.4" y="417.8" font-size="8.1" text-anchor="end" textLength="12.3" lengthAdjust="spacingAndGlyphs" fill="#231f20" stroke="#231f20" stroke-width="0.25">ST1</text>
<text x="361.0" y="411.0" font-size="8.1" text-anchor="middle" textLength="25.1" lengthAdjust="spacingAndGlyphs" fill="#231f20" stroke="#231f20" stroke-width="0.25">STAT3</text>
<line x1="316.30" y1="415.50" x2="405.80" y2="415.50" stroke="#111" stroke-width="1.0"/>
<text x="311.3" y="431.8" font-size="8.1" text-anchor="end" textLength="37.4" lengthAdjust="spacingAndGlyphs" fill="#231f20" stroke="#231f20" stroke-width="0.25">Expression</text>
<text x="311.3" y="441.7" font-size="8.1" text-anchor="end" textLength="23.8" lengthAdjust="spacingAndGlyphs" fill="#231f20" stroke="#231f20" stroke-width="0.25">vector:</text>
<text transform="translate(327.5,447.1) rotate(-90)" font-size="7.9" text-anchor="start" fill="#231f20" stroke="#231f20" stroke-width="0.25">Mock</text>
<text transform="translate(345.3,447.1) rotate(-90)" font-size="7.9" text-anchor="start" fill="#231f20" stroke="#231f20" stroke-width="0.25">WT</text>
<text transform="translate(363.1,447.1) rotate(-90)" font-size="7.9" text-anchor="start" fill="#231f20" stroke="#231f20" stroke-width="0.25">D556N</text>
<text transform="translate(380.9,447.1) rotate(-90)" font-size="7.9" text-anchor="start" fill="#231f20" stroke="#231f20" stroke-width="0.25">Y640F</text>
<text transform="translate(398.7,447.1) rotate(-90)" font-size="7.9" text-anchor="start" fill="#231f20" stroke="#231f20" stroke-width="0.25">D661Y</text>
<text x="311.8" y="462.4" font-size="8.1" text-anchor="end" textLength="30.8" lengthAdjust="spacingAndGlyphs" fill="#231f20" stroke="#231f20" stroke-width="0.25">P-STAT3</text>
<text x="311.8" y="483.4" font-size="8.1" text-anchor="end" textLength="23.1" lengthAdjust="spacingAndGlyphs" fill="#231f20" stroke="#231f20" stroke-width="0.25">STAT3</text>
<text x="311.8" y="504.1" font-size="8.1" text-anchor="end" textLength="28.0" lengthAdjust="spacingAndGlyphs" fill="#231f20" stroke="#231f20" stroke-width="0.25">GAPDH</text>
<rect x="315.30" y="450.10" width="91.50" height="19.10" fill="#ebebeb"/>
<rect x="332.90" y="451.60" width="2.60" height="16.00" rx="1.00" fill="#f2f2f2" opacity="1.0" filter="url(#b8)"/>
<rect x="350.70" y="451.60" width="2.60" height="16.00" rx="1.00" fill="#f2f2f2" opacity="1.0" filter="url(#b8)"/>
<rect x="368.50" y="451.60" width="2.60" height="16.00" rx="1.00" fill="#f2f2f2" opacity="1.0" filter="url(#b8)"/>
<rect x="386.30" y="451.60" width="2.60" height="16.00" rx="1.00" fill="#f2f2f2" opacity="1.0" filter="url(#b8)"/>
<rect x="318.00" y="461.10" width="12.60" height="2.10" rx="1.05" fill="#a9a9a9" opacity="1.0" filter="url(#b8)"/>
<rect x="318.00" y="464.90" width="12.60" height="1.70" rx="0.85" fill="#c6c6c6" opacity="1.0" filter="url(#b8)"/>
<rect x="335.30" y="459.40" width="13.30" height="2.30" rx="1.15" fill="#b9b9b9" opacity="1.0" filter="url(#b8)"/>
<rect x="335.30" y="464.10" width="13.30" height="1.50" rx="0.75" fill="#d6d6d6" opacity="1.0" filter="url(#b8)"/>
<rect x="353.60" y="458.50" width="13.80" height="2.40" rx="1.20" fill="#9a9a9a" opacity="1.0" filter="url(#b8)"/>
<rect x="353.60" y="463.40" width="13.80" height="1.60" rx="0.80" fill="#cfcfcf" opacity="1.0" filter="url(#b8)"/>
<rect x="372.10" y="457.80" width="13.50" height="3.40" rx="1.70" fill="#151515" opacity="1.0" filter="url(#b8)"/>
<rect x="372.10" y="461.00" width="13.50" height="3.20" rx="1.60" fill="#8a8a8a" opacity="1.0" filter="url(#b8)"/>
<rect x="390.60" y="456.80" width="13.50" height="3.10" rx="1.55" fill="#202020" opacity="1.0" filter="url(#b8)"/>
<rect x="390.60" y="460.20" width="13.50" height="2.60" rx="1.30" fill="#a0a0a0" opacity="1.0" filter="url(#b8)"/>
<rect x="315.95" y="450.75" width="90.20" height="17.80" rx="0.8" fill="none" stroke="#1c1c1c" stroke-width="1.3"/>
<rect x="315.30" y="470.90" width="91.50" height="18.60" fill="#e4e4e4"/>
<rect x="332.80" y="472.20" width="2.80" height="16.00" rx="1.00" fill="#f3f3f3" opacity="1.0" filter="url(#b8)"/>
<rect x="318.40" y="475.60" width="14.20" height="6.00" rx="3.00" fill="#9a9a9a" opacity="1.0" filter="url(#b10)"/>
<rect x="318.60" y="477.10" width="13.90" height="2.90" rx="1.45" fill="#2e2e2e" opacity="1.0" filter="url(#b7)"/>
<rect x="336.00" y="473.20" width="16.00" height="9.80" rx="3.00" fill="#000" opacity="1.0" filter="url(#b9)"/>
<rect x="353.20" y="473.20" width="16.20" height="10.00" rx="3.00" fill="#000" opacity="1.0" filter="url(#b9)"/>
<rect x="371.40" y="473.00" width="16.00" height="11.20" rx="3.00" fill="#000" opacity="1.0" filter="url(#b9)"/>
<rect x="390.40" y="475.40" width="15.00" height="7.60" rx="2.50" fill="#050505" opacity="1.0" filter="url(#b9)"/>
<rect x="391.00" y="473.60" width="5.50" height="2.90" rx="1.00" fill="#e4e4e4" opacity="1.0" filter="url(#b8)"/>
<rect x="315.95" y="471.55" width="90.20" height="17.30" rx="0.8" fill="none" stroke="#1c1c1c" stroke-width="1.3"/>
<rect x="315.30" y="492.20" width="91.50" height="18.20" fill="#e0e0e0"/>
<rect x="332.90" y="493.30" width="2.60" height="16.00" rx="1.00" fill="#ececec" opacity="1.0" filter="url(#b8)"/>
<rect x="350.70" y="493.30" width="2.60" height="16.00" rx="1.00" fill="#ececec" opacity="1.0" filter="url(#b8)"/>
<rect x="368.50" y="493.30" width="2.60" height="16.00" rx="1.00" fill="#ececec" opacity="1.0" filter="url(#b8)"/>
<rect x="386.30" y="493.30" width="2.60" height="16.00" rx="1.00" fill="#ececec" opacity="1.0" filter="url(#b8)"/>
<rect x="317.50" y="499.50" width="13.50" height="6.10" rx="2.60" fill="#000" opacity="1.0" filter="url(#b8)"/>
<rect x="337.00" y="500.40" width="12.80" height="4.30" rx="2.60" fill="#000" opacity="1.0" filter="url(#b8)"/>
<rect x="354.00" y="499.80" width="13.60" height="4.60" rx="2.60" fill="#000" opacity="1.0" filter="url(#b8)"/>
<rect x="371.50" y="498.80" width="14.50" height="5.20" rx="2.60" fill="#000" opacity="1.0" filter="url(#b8)"/>
<rect x="390.20" y="498.80" width="14.20" height="4.80" rx="2.60" fill="#000" opacity="1.0" filter="url(#b8)"/>
<rect x="315.95" y="492.85" width="90.20" height="16.90" rx="0.8" fill="none" stroke="#1c1c1c" stroke-width="1.3"/>
<rect x="0.00" y="0.00" width="520.00" height="1.00" fill="#000"/>
<rect x="0.00" y="0.00" width="1.00" height="555.00" fill="#000"/>
<rect x="518.50" y="0.00" width="1.50" height="555.00" fill="#000"/>
<rect x="0.00" y="553.50" width="520.00" height="1.50" fill="#000"/>
</svg>
</body></html>
